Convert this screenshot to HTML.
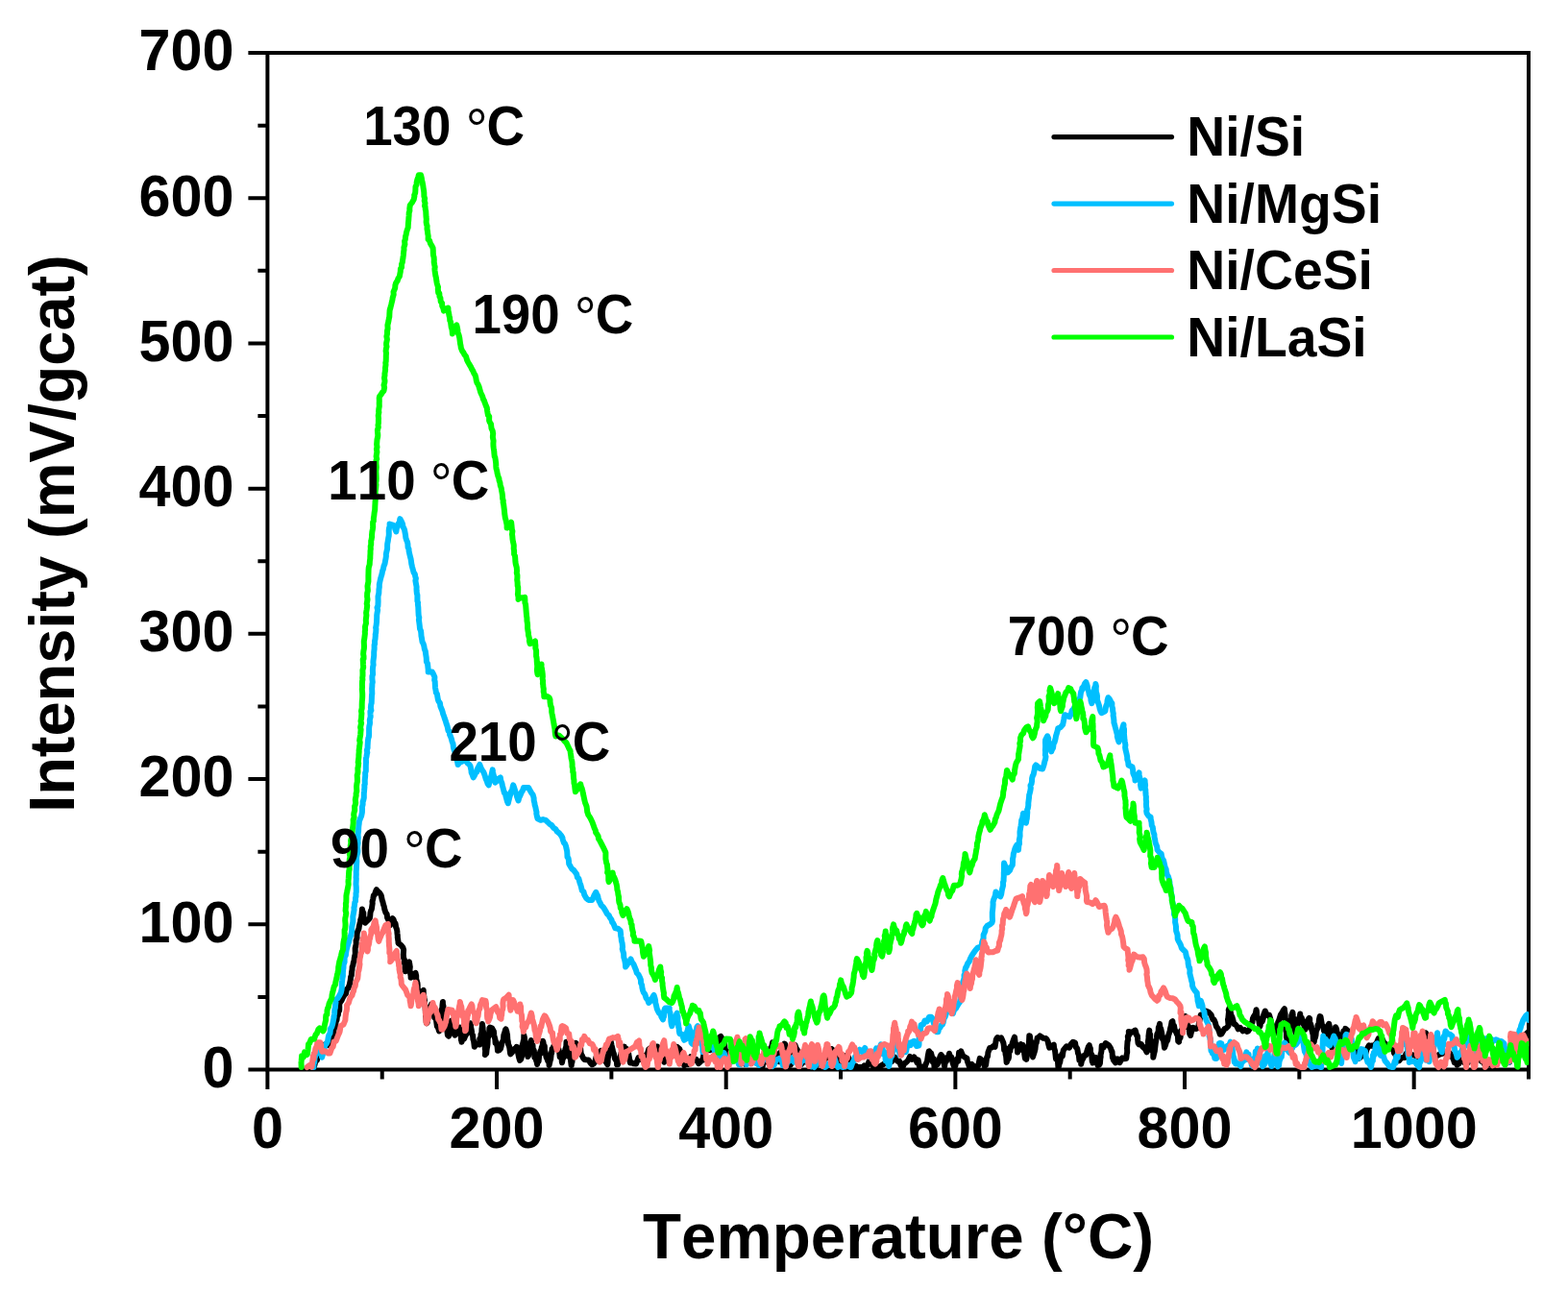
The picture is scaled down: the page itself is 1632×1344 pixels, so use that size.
<!DOCTYPE html>
<html><head><meta charset="utf-8"><title>TPR profiles</title>
<style>html,body{margin:0;padding:0;background:#fff;}svg{display:block;}</style>
</head><body>
<svg width="1632" height="1344" viewBox="0 0 1632 1344">
<rect width="1632" height="1344" fill="#ffffff"/>
<rect x="278.4" y="55.0" width="1312.6" height="1058.5" fill="none" stroke="#000" stroke-width="4.0" stroke-linejoin="miter"/>
<path d="M258.4,1113.50H278.4 M268.4,1037.89H278.4 M258.4,962.29H278.4 M268.4,886.68H278.4 M258.4,811.08H278.4 M268.4,735.48H278.4 M258.4,659.87H278.4 M268.4,584.26H278.4 M258.4,508.66H278.4 M268.4,433.05H278.4 M258.4,357.45H278.4 M268.4,281.85H278.4 M258.4,206.24H278.4 M268.4,130.63H278.4 M258.4,55.03H278.4 M278.40,1113.5V1134.0 M397.73,1113.5V1123.5 M517.05,1113.5V1134.0 M636.38,1113.5V1123.5 M755.71,1113.5V1134.0 M875.03,1113.5V1123.5 M994.36,1113.5V1134.0 M1113.69,1113.5V1123.5 M1233.02,1113.5V1134.0 M1352.34,1113.5V1123.5 M1471.67,1113.5V1134.0 M1591.00,1113.5V1123.5" stroke="#000" stroke-width="4.0" fill="none"/>
<defs><clipPath id="pc"><rect x="278.4" y="55.0" width="1312.8999999999999" height="1060.5"/></clipPath></defs>
<g clip-path="url(#pc)">
<polyline points="326.8,1111.0 328.3,1105.0 329.2,1104.3 329.9,1103.8 331.0,1099.5 332.6,1097.3 334.6,1096.3 336.0,1093.0 337.9,1087.4 340.5,1087.6 341.9,1088.1 343.1,1085.7 345.1,1081.5 346.4,1080.0 347.1,1076.3 346.8,1076.8 347.5,1072.5 348.3,1067.8 348.9,1069.2 349.7,1063.4 350.5,1062.0 351.0,1057.4 351.8,1056.7 352.3,1053.3 353.2,1052.0 353.3,1048.8 353.2,1046.2 353.7,1044.0 355.3,1042.0 356.6,1039.0 358.4,1036.0 360.0,1034.4 360.9,1030.0 362.5,1028.6 363.6,1025.6 364.0,1023.8 364.7,1020.8 365.1,1017.0 365.8,1015.5 366.0,1012.0 366.5,1009.6 366.7,1006.3 367.3,1005.4 367.9,1001.7 368.5,1000.4 368.8,997.3 369.3,995.2 369.8,992.6 369.7,990.0 369.7,987.2 370.5,983.7 370.7,982.9 370.6,979.1 371.6,976.7 371.5,974.6 371.7,971.4 372.2,969.7 373.5,966.7 373.8,964.4 374.5,961.4 375.2,959.5 375.2,957.8 376.2,954.8 376.5,952.4 376.7,949.6 377.0,946.4 377.4,948.9 378.3,950.3 378.3,953.7 379.0,955.9 379.4,958.0 380.0,960.7 382.5,958.4 384.8,956.0 385.2,953.7 385.5,950.0 386.2,947.7 386.8,946.6 387.2,943.9 387.7,940.3 387.5,938.6 388.3,935.7 388.8,932.4 389.9,931.5 391.1,927.8 391.9,926.2 393.2,927.9 395.1,929.5 396.7,932.1 397.1,933.8 397.8,937.3 398.4,938.9 399.0,941.7 399.7,943.5 400.4,947.1 401.4,950.0 402.7,951.8 403.1,955.3 404.5,958.1 404.9,959.5 406.2,963.1 407.2,960.0 408.0,957.7 408.6,956.0 409.6,957.3 410.5,960.1 411.6,961.6 412.1,965.2 412.9,967.1 413.3,969.0 413.5,971.8 413.8,974.1 413.8,976.0 414.5,980.3 414.5,981.8 417.3,983.9 419.5,986.7 420.1,988.8 419.9,992.1 419.8,993.6 420.1,997.3 421.1,999.6 420.7,1001.6 421.6,1004.7 421.4,1006.8 421.5,1008.6 421.9,1011.3 423.1,1008.3 423.7,1006.3 425.1,1003.2 426.0,1001.5 426.3,1003.8 426.8,1006.6 426.4,1010.4 426.9,1011.8 427.6,1016.1 427.6,1017.8 429.8,1015.0 432.5,1012.9 433.2,1015.9 433.2,1019.1 433.9,1021.7 434.5,1023.5 434.7,1025.7 434.7,1028.0 435.2,1032.4 435.8,1034.2 438.3,1033.1 440.7,1030.9 440.8,1034.0 441.0,1035.5 441.5,1039.0 442.0,1041.6 441.9,1042.5 441.7,1044.9 442.6,1047.2 442.8,1051.8 442.9,1052.3 443.0,1056.7 443.1,1058.2 443.3,1058.5 443.8,1064.6 444.0,1065.3 444.6,1064.7 445.5,1059.4 445.4,1059.4 446.1,1056.2 447.4,1051.3 447.5,1048.5 448.2,1049.0 448.9,1045.6 449.3,1047.2 450.5,1049.1 451.3,1050.8 452.0,1054.4 452.2,1059.0 453.0,1058.5 453.8,1060.1 454.0,1062.2 454.9,1068.6 455.7,1069.3 456.1,1070.4 457.1,1073.5 457.8,1072.8 457.4,1070.5 458.1,1064.6 458.4,1065.4 458.8,1061.6 459.0,1057.1 459.1,1054.8 459.5,1051.3 459.9,1052.7 460.4,1048.3 460.5,1046.3 460.9,1042.9 460.9,1044.9 461.5,1047.4 461.3,1051.9 461.7,1051.8 461.9,1055.3 461.6,1056.2 461.8,1058.6 462.0,1062.4 462.6,1062.7 462.7,1067.0 463.8,1068.4 464.8,1071.6 465.3,1072.4 465.9,1077.6 467.1,1078.6 467.3,1077.9 468.4,1074.4 468.3,1072.0 468.9,1066.1 469.2,1067.0 469.8,1062.5 470.1,1066.8 470.6,1069.4 471.9,1069.3 472.5,1074.0 473.0,1076.7 473.4,1077.7 474.5,1076.5 475.8,1073.4 477.6,1072.6 478.8,1069.6 478.7,1071.0 479.6,1076.7 479.7,1077.4 479.9,1082.3 480.1,1081.5 480.5,1084.8 481.5,1080.8 483.1,1081.4 484.2,1078.6 485.9,1075.9 486.5,1072.6 487.5,1068.9 488.5,1069.3 489.5,1065.2 490.0,1067.2 490.0,1068.8 490.8,1072.6 491.2,1075.5 491.9,1078.1 492.1,1077.8 492.4,1081.9 493.1,1083.8 493.8,1089.8 493.9,1089.3 496.7,1086.8 499.3,1087.5 499.3,1081.6 500.3,1082.2 500.5,1077.0 500.5,1078.5 501.3,1075.0 501.5,1070.9 501.7,1069.8 502.0,1066.1 502.6,1070.1 502.6,1072.9 502.6,1071.9 503.1,1074.5 503.0,1080.0 503.8,1081.8 503.9,1081.8 504.3,1082.9 504.8,1084.4 504.8,1092.3 505.3,1090.8 504.9,1098.2 505.5,1097.3 506.2,1096.8 506.5,1093.4 507.1,1089.3 507.0,1090.6 507.5,1086.9 507.8,1079.8 508.7,1077.0 508.5,1079.2 509.1,1075.1 509.4,1070.4 510.0,1069.6 512.0,1070.3 513.6,1073.2 513.9,1073.6 514.3,1077.9 515.3,1081.8 515.6,1085.9 516.4,1084.5 517.0,1087.0 517.6,1089.4 518.0,1093.8 519.7,1093.2 521.0,1091.8 522.5,1085.7 523.5,1083.3 523.9,1082.9 524.3,1077.7 525.4,1074.4 526.0,1072.1 526.5,1071.4 527.4,1074.2 527.9,1077.7 528.0,1076.6 528.3,1082.3 528.8,1084.4 529.0,1087.1 529.9,1089.1 530.3,1090.7 531.1,1096.7 531.4,1097.3 533.3,1095.2 534.8,1092.3 536.8,1091.1 537.7,1089.8 539.2,1096.4 540.0,1100.4 541.0,1103.9 542.1,1102.7 542.3,1102.6 543.1,1099.5 542.8,1093.8 543.4,1093.6 543.3,1089.2 544.0,1086.9 544.6,1084.5 544.8,1083.3 545.2,1083.1 545.3,1077.7 545.9,1080.1 546.3,1083.7 546.6,1086.1 547.2,1088.5 547.7,1093.2 548.2,1095.1 548.5,1097.3 548.7,1096.4 549.3,1100.0 550.1,1099.1 550.1,1095.5 550.8,1095.1 551.0,1090.0 552.1,1087.9 552.3,1084.9 552.9,1083.0 553.1,1086.6 554.5,1088.1 554.7,1091.9 555.5,1094.4 555.8,1093.4 556.4,1100.8 557.5,1097.4 557.8,1103.2 558.7,1105.6 559.1,1108.0 559.9,1103.3 560.6,1104.9 561.1,1099.4 561.7,1096.8 562.5,1094.0 562.7,1096.7 563.9,1089.8 564.4,1090.9 565.1,1083.7 565.4,1084.8 565.9,1088.1 566.8,1089.1 567.0,1094.1 567.6,1095.3 568.5,1100.3 569.3,1102.2 569.5,1102.4 570.1,1104.3 571.2,1103.9 571.6,1108.9 572.4,1105.4 572.9,1102.1 573.1,1103.1 573.8,1096.3 574.1,1096.6 574.6,1091.9 575.8,1092.5 576.1,1089.3 578.4,1088.8 581.4,1092.3 582.3,1096.1 582.7,1100.3 583.5,1098.2 584.0,1098.9 584.3,1101.1 585.0,1106.3 585.4,1103.9 585.8,1099.1 586.5,1101.4 586.8,1097.3 587.4,1095.9 588.3,1092.6 588.1,1093.1 589.3,1089.3 589.5,1084.8 589.9,1085.9 590.9,1090.2 591.4,1091.3 591.3,1096.3 591.8,1099.8 592.8,1096.7 593.1,1098.5 593.7,1101.4 594.6,1108.9 594.8,1108.9 594.9,1103.0 595.4,1106.2 596.0,1099.5 596.4,1095.6 597.5,1097.0 598.1,1094.8 598.2,1092.0 599.2,1089.2 599.3,1085.7 601.5,1089.6 602.4,1092.9 604.1,1090.9 604.7,1097.0 606.0,1099.3 606.7,1100.9 608.2,1103.0 610.2,1103.3 612.6,1103.5 614.4,1106.4 616.3,1108.3 617.8,1107.6 619.2,1105.5 620.7,1099.9 622.0,1096.9 623.2,1099.8 624.3,1095.0 625.3,1094.0 626.9,1101.7 628.7,1100.7 629.7,1100.6 630.7,1105.7 632.3,1108.3 632.7,1105.1 632.5,1106.2 632.8,1101.2 633.0,1100.8 633.6,1092.9 633.8,1095.5 634.4,1088.8 634.7,1091.2 634.7,1085.2 635.0,1084.2 635.9,1084.8 636.5,1087.8 637.8,1093.5 637.9,1094.4 639.0,1097.3 640.0,1102.2 640.8,1103.5 641.8,1103.7 642.1,1108.3 643.1,1108.3 643.8,1103.5 644.5,1103.8 645.7,1100.2 646.7,1095.7 647.1,1097.7 648.0,1092.8 649.2,1090.7 649.8,1089.6 650.8,1091.9 652.0,1091.7 652.5,1095.2 654.0,1095.7 654.9,1101.0 655.9,1106.5 656.5,1105.7 659.5,1107.3 662.1,1107.4 664.5,1101.0 667.2,1103.0 669.2,1101.4 670.6,1100.8 671.9,1098.4 673.7,1097.6 675.2,1092.3 677.9,1090.7 680.6,1094.0 683.3,1089.6 684.2,1089.5 685.6,1095.5 686.5,1099.4 688.1,1098.2 688.7,1097.9 690.0,1103.7 691.3,1105.7 692.7,1100.7 694.5,1102.4 695.8,1096.2 697.8,1099.7 699.3,1095.0 702.3,1091.7 704.6,1089.8 707.4,1092.3 708.3,1097.1 709.2,1095.3 710.0,1099.9 710.4,1104.3 711.2,1105.0 712.2,1109.2 712.7,1108.3 715.0,1107.9 716.6,1107.9 719.0,1100.1 720.8,1100.3 722.8,1103.6 724.7,1102.9 727.0,1107.1 728.8,1105.7 729.8,1104.1 731.4,1103.8 732.6,1096.8 733.7,1098.1 735.3,1091.8 736.8,1092.3 738.9,1093.2 740.7,1091.9 742.6,1087.1 744.5,1084.8 746.7,1085.0 748.4,1080.2 750.2,1078.9 750.9,1079.9 752.1,1083.7 753.3,1086.4 753.9,1086.0 754.9,1094.3 755.5,1093.6 756.8,1094.8 757.5,1100.8 758.3,1100.3 761.3,1101.8 763.6,1100.1 766.6,1096.1 769.0,1095.0 770.4,1096.2 771.2,1099.2 772.2,1101.2 773.6,1102.6 774.6,1102.4 776.0,1108.0 778.3,1104.3 779.8,1104.6 781.8,1105.6 784.0,1100.0 785.8,1101.9 787.1,1105.0 788.8,1107.4 790.4,1108.8 792.0,1109.0 793.7,1110.1 794.7,1101.6 796.3,1105.6 798.0,1100.0 798.8,1094.2 800.4,1095.0 801.2,1092.0 801.7,1092.7 803.5,1088.6 804.1,1085.4 804.9,1088.2 805.9,1089.2 806.0,1096.1 807.0,1095.6 807.5,1098.9 808.3,1098.4 809.5,1102.4 810.0,1105.0 811.0,1105.3 811.3,1101.7 812.5,1097.3 813.2,1094.3 813.7,1096.4 814.5,1093.7 815.9,1088.1 816.4,1086.6 817.0,1086.8 818.0,1090.8 818.1,1097.3 819.2,1096.1 819.3,1098.8 820.0,1102.7 820.4,1103.1 821.5,1109.1 822.0,1108.0 823.0,1108.5 823.4,1101.3 824.2,1100.0 824.5,1100.4 825.5,1093.8 825.8,1092.2 826.8,1088.1 827.4,1087.8 828.6,1091.0 829.1,1093.1 829.8,1092.8 830.9,1096.3 831.3,1098.7 832.3,1102.0 833.3,1104.3 834.0,1108.0 836.3,1103.7 838.0,1105.4 839.9,1098.8 842.0,1100.0 843.7,1103.2 845.5,1105.8 846.8,1104.1 848.1,1106.0 850.0,1109.0 851.8,1104.7 854.0,1102.5 856.1,1105.2 858.0,1102.0 859.7,1101.7 862.0,1096.6 863.8,1100.0 865.5,1092.0 867.8,1094.0 868.9,1094.9 869.6,1095.7 871.3,1102.3 872.0,1102.2 872.6,1105.8 874.0,1108.0 875.2,1104.6 877.2,1101.9 878.1,1102.8 880.0,1099.3 881.8,1098.4 883.1,1100.7 884.4,1104.1 886.1,1104.5 888.0,1110.0 890.8,1109.5 892.7,1111.0 895.2,1111.0 897.9,1111.0 899.5,1109.4 901.3,1110.7 903.3,1107.9 905.0,1104.0 907.4,1108.5 909.6,1110.7 912.0,1110.0 915.1,1110.7 918.1,1108.8 920.5,1107.4 922.6,1105.9 925.0,1104.0 928.2,1105.1 931.2,1100.5 932.5,1103.0 934.3,1104.8 936.1,1104.7 937.6,1109.2 939.5,1111.0 941.4,1107.0 943.1,1106.1 945.0,1104.0 947.0,1100.0 949.3,1102.8 951.4,1100.5 953.1,1102.9 954.4,1106.3 955.6,1103.4 956.9,1110.2 958.6,1111.0 962.3,1110.3 962.8,1110.6 963.7,1107.7 965.0,1104.8 965.9,1098.5 966.7,1094.6 967.2,1094.4 968.0,1095.8 969.0,1096.2 969.9,1099.6 970.8,1105.6 971.9,1102.2 972.5,1111.0 973.3,1110.3 974.6,1107.0 975.7,1108.1 977.0,1104.9 978.5,1099.9 979.4,1098.0 980.2,1099.8 980.9,1099.7 981.8,1102.0 982.0,1104.2 983.1,1110.3 983.8,1104.8 984.9,1105.0 986.4,1100.6 987.1,1102.4 988.0,1096.8 989.2,1101.7 990.2,1100.4 991.0,1103.0 991.6,1106.6 992.9,1110.3 994.3,1110.0 995.3,1104.4 996.2,1102.4 997.3,1104.8 998.1,1095.7 999.0,1095.8 1000.2,1094.4 1002.2,1099.1 1004.4,1100.7 1006.4,1101.7 1006.8,1104.7 1008.3,1108.7 1008.8,1110.3 1011.4,1107.9 1013.6,1110.2 1016.2,1110.3 1018.2,1109.3 1019.8,1101.9 1021.1,1102.9 1022.6,1104.5 1023.7,1105.5 1024.8,1110.3 1025.3,1105.0 1026.1,1108.8 1026.6,1105.0 1027.2,1100.3 1028.0,1100.0 1028.4,1095.6 1030.2,1090.9 1032.1,1090.7 1033.8,1089.0 1035.6,1089.9 1036.8,1082.3 1038.1,1080.0 1040.1,1080.9 1042.0,1080.3 1044.4,1085.8 1045.0,1090.2 1045.1,1092.8 1046.1,1090.7 1046.6,1097.9 1046.6,1094.6 1047.3,1101.5 1047.6,1105.9 1048.0,1105.4 1048.2,1102.0 1049.6,1102.3 1050.0,1100.4 1050.3,1093.7 1051.4,1094.1 1051.7,1089.5 1052.5,1090.4 1053.9,1085.2 1055.2,1081.6 1056.0,1079.7 1056.7,1085.5 1057.2,1086.4 1057.6,1088.8 1058.3,1088.5 1058.7,1090.2 1059.1,1095.6 1060.3,1091.9 1061.5,1090.9 1062.7,1087.0 1063.3,1092.7 1064.7,1088.0 1064.9,1092.5 1066.0,1095.5 1066.9,1101.9 1067.5,1099.3 1068.3,1102.9 1068.7,1100.1 1068.8,1097.4 1069.3,1094.8 1070.0,1090.9 1069.8,1089.6 1070.7,1088.7 1070.9,1087.8 1071.0,1085.0 1071.3,1078.3 1071.9,1078.4 1072.1,1079.8 1072.3,1083.1 1072.7,1083.1 1073.5,1086.0 1073.4,1090.9 1074.3,1092.6 1074.4,1096.1 1074.4,1097.3 1075.0,1100.5 1075.3,1099.0 1075.9,1097.7 1076.8,1094.9 1077.5,1092.0 1078.1,1085.6 1078.7,1085.8 1079.7,1080.3 1081.0,1080.0 1082.4,1078.4 1085.8,1080.8 1088.5,1080.9 1089.7,1082.3 1090.5,1083.8 1091.3,1087.2 1092.2,1090.7 1095.8,1088.2 1096.8,1087.7 1097.1,1091.0 1098.1,1094.1 1098.6,1098.7 1099.0,1102.3 1100.2,1099.8 1100.9,1104.1 1101.4,1111.0 1102.0,1110.3 1103.0,1105.0 1103.2,1106.3 1104.1,1100.8 1105.1,1097.7 1105.8,1099.5 1106.5,1094.7 1106.9,1093.1 1110.1,1089.3 1113.0,1090.7 1114.6,1087.3 1116.8,1084.7 1119.1,1085.8 1119.7,1090.1 1120.5,1090.6 1121.2,1091.5 1122.1,1096.8 1122.8,1098.0 1123.4,1103.8 1123.7,1102.3 1124.8,1102.5 1125.2,1107.8 1126.3,1102.7 1127.0,1102.6 1128.7,1098.4 1129.8,1098.3 1130.3,1098.5 1131.3,1094.4 1132.7,1090.1 1133.8,1088.2 1134.4,1094.1 1134.9,1091.2 1135.1,1096.2 1136.2,1097.7 1136.7,1104.8 1137.3,1100.8 1137.5,1106.6 1139.0,1103.4 1140.0,1100.8 1141.1,1101.1 1142.5,1109.1 1144.0,1108.8 1144.3,1103.0 1144.9,1107.3 1145.4,1100.5 1145.6,1100.9 1145.6,1097.3 1146.0,1096.6 1146.4,1094.3 1146.7,1088.7 1148.7,1090.3 1150.7,1086.0 1152.6,1087.3 1154.0,1088.3 1156.1,1091.4 1156.9,1094.4 1157.5,1094.6 1157.9,1100.7 1158.7,1100.4 1158.8,1103.4 1161.1,1106.4 1163.3,1102.4 1165.5,1106.1 1168.1,1101.3 1169.9,1102.3 1172.2,1102.1 1172.5,1099.9 1172.7,1097.6 1173.2,1095.4 1173.1,1091.5 1173.0,1091.6 1173.5,1084.3 1174.2,1082.2 1173.8,1079.1 1174.3,1077.8 1175.0,1078.0 1174.8,1074.0 1178.2,1074.8 1181.5,1072.6 1181.8,1073.0 1183.1,1078.1 1183.9,1078.3 1184.2,1082.8 1184.5,1085.8 1185.5,1087.4 1187.9,1087.0 1189.2,1089.7 1191.8,1091.8 1193.6,1095.4 1193.7,1091.2 1194.2,1088.7 1194.3,1089.5 1195.2,1088.0 1194.8,1085.1 1195.7,1078.9 1195.4,1079.2 1195.9,1074.9 1196.3,1072.6 1196.3,1076.3 1197.2,1076.9 1197.0,1083.1 1197.9,1083.5 1198.1,1088.1 1198.2,1091.4 1198.5,1087.8 1198.9,1093.7 1199.3,1094.0 1200.3,1095.0 1200.3,1100.8 1201.1,1097.1 1201.0,1097.4 1201.3,1096.4 1201.8,1094.3 1202.7,1086.6 1203.4,1082.3 1203.9,1080.4 1204.2,1077.5 1204.4,1076.3 1205.0,1075.8 1205.7,1072.9 1205.8,1069.5 1206.4,1069.2 1207.0,1065.9 1207.5,1070.2 1207.7,1070.6 1208.3,1071.0 1209.3,1076.1 1209.6,1079.9 1210.1,1081.9 1210.6,1079.7 1211.5,1086.6 1212.0,1090.8 1212.3,1090.0 1213.1,1088.0 1213.8,1085.1 1214.6,1084.0 1215.2,1082.8 1216.2,1077.7 1216.7,1076.2 1217.7,1073.2 1218.0,1071.0 1219.0,1067.2 1219.6,1063.6 1220.4,1063.2 1220.9,1067.3 1222.0,1067.7 1222.8,1072.2 1223.3,1073.3 1224.2,1074.9 1225.1,1076.9 1225.8,1076.4 1226.2,1084.1 1227.1,1084.7 1227.6,1078.8 1228.5,1080.5 1228.7,1079.0 1229.2,1073.1 1230.3,1074.7 1230.9,1068.4 1231.4,1069.7 1232.3,1064.0 1232.3,1063.7 1233.2,1061.5 1233.8,1057.9 1234.4,1060.7 1235.1,1062.0 1235.8,1065.6 1236.1,1069.6 1237.5,1069.1 1237.9,1073.4 1238.2,1076.1 1239.1,1078.0 1239.8,1074.8 1241.3,1071.1 1241.8,1069.9 1244.8,1071.0 1247.2,1069.9 1247.9,1065.0 1248.2,1063.7 1248.4,1062.6 1249.3,1058.6 1249.8,1056.5 1252.5,1056.1 1255.2,1052.5 1258.0,1053.7 1260.6,1056.5 1261.5,1059.3 1262.5,1061.6 1263.6,1061.6 1264.8,1064.4 1265.9,1068.6 1267.5,1070.6 1268.8,1073.7 1269.8,1076.8 1271.3,1076.6 1272.8,1074.0 1274.7,1070.9 1276.0,1070.6 1278.0,1068.6 1278.6,1067.8 1278.0,1061.3 1278.7,1058.6 1278.4,1059.4 1279.0,1053.0 1278.7,1051.7 1279.3,1049.8 1279.9,1050.1 1280.7,1053.3 1281.5,1057.3 1282.3,1058.3 1283.3,1061.9 1284.4,1066.0 1286.0,1066.8 1287.3,1068.2 1288.7,1071.3 1290.8,1069.8 1293.6,1073.3 1295.5,1072.1 1298.1,1074.0 1299.1,1073.4 1301.1,1070.6 1302.3,1065.4 1303.4,1064.6 1303.9,1060.4 1304.9,1058.3 1305.8,1057.0 1306.8,1055.2 1307.5,1051.2 1307.8,1052.0 1308.3,1057.3 1309.5,1060.6 1309.6,1059.9 1310.3,1062.5 1310.6,1065.0 1311.5,1068.6 1312.0,1065.2 1313.0,1063.3 1313.9,1063.3 1314.8,1059.9 1315.2,1056.6 1316.3,1053.7 1316.8,1052.5 1318.5,1056.2 1319.2,1057.0 1321.1,1056.7 1322.2,1060.6 1323.1,1064.7 1324.3,1067.4 1324.7,1069.1 1325.6,1070.2 1326.6,1072.4 1327.5,1075.3 1327.9,1070.7 1328.9,1068.9 1329.7,1069.6 1330.2,1064.0 1330.6,1063.6 1331.6,1060.6 1333.0,1056.2 1334.4,1054.3 1335.9,1051.4 1336.9,1050.3 1337.0,1052.0 1337.6,1055.7 1337.8,1059.9 1337.3,1061.4 1337.9,1061.8 1338.2,1067.9 1338.1,1067.0 1338.4,1073.0 1338.9,1075.1 1338.9,1077.3 1338.9,1079.8 1339.6,1078.5 1339.4,1083.8 1339.7,1077.9 1340.8,1079.6 1340.7,1075.0 1341.3,1075.3 1341.8,1070.9 1342.8,1066.8 1342.5,1067.2 1343.1,1062.0 1344.2,1060.7 1344.2,1057.2 1344.9,1055.5 1345.4,1053.8 1345.8,1057.9 1346.1,1060.3 1346.7,1060.6 1346.7,1063.7 1347.0,1065.7 1347.1,1067.8 1347.9,1069.1 1347.8,1071.2 1348.4,1075.2 1348.9,1071.3 1349.5,1068.3 1350.3,1068.3 1350.5,1067.0 1351.2,1063.5 1352.1,1059.7 1352.7,1059.4 1353.2,1055.5 1353.5,1060.0 1354.6,1059.3 1355.0,1060.4 1356.2,1064.2 1356.5,1065.5 1357.8,1068.7 1358.3,1071.8 1359.6,1069.7 1360.3,1067.5 1360.9,1064.9 1361.4,1061.8 1362.6,1059.8 1363.2,1060.4 1363.2,1066.3 1364.0,1065.8 1364.9,1068.9 1365.0,1071.1 1366.0,1074.6 1366.3,1076.3 1366.6,1076.4 1367.0,1085.2 1367.7,1084.6 1368.4,1081.1 1368.9,1080.2 1369.5,1077.8 1369.8,1074.1 1370.5,1072.1 1371.3,1070.4 1371.5,1067.2 1372.5,1066.7 1372.9,1061.7 1373.4,1059.3 1373.8,1058.0 1374.5,1058.4 1375.3,1063.3 1376.0,1067.3 1376.5,1068.2 1377.2,1068.2 1378.0,1073.1 1378.5,1073.9 1379.3,1075.8 1379.8,1080.3 1380.3,1079.3 1381.1,1076.3 1381.2,1072.2 1382.0,1071.8 1382.6,1066.7 1383.2,1065.8 1384.0,1069.7 1384.4,1070.9 1384.4,1071.6 1384.6,1073.3 1384.8,1079.5 1385.6,1081.4 1386.3,1086.2 1386.1,1082.4 1386.6,1091.1 1387.4,1087.7 1387.5,1092.4 1387.6,1090.7 1388.0,1087.6 1388.4,1084.4 1388.7,1079.7 1389.0,1082.8 1389.0,1078.2 1389.0,1072.8 1389.4,1073.9 1390.0,1069.2 1391.0,1071.2 1391.8,1075.4 1392.9,1076.6 1393.7,1079.1 1394.5,1078.8 1395.2,1084.6 1396.0,1079.4 1396.6,1079.6 1398.0,1077.5 1398.4,1073.4 1399.4,1075.3 1400.3,1070.9 1402.4,1072.6 1403.8,1075.2 1404.3,1078.9 1405.1,1080.9 1406.2,1084.6 1406.6,1087.2 1407.5,1090.7 1408.4,1092.6 1408.9,1095.3 1410.0,1095.0 1411.9,1093.8 1413.8,1102.0 1415.8,1100.9 1417.2,1099.0 1419.2,1097.2 1421.1,1097.7 1422.4,1092.7 1424.8,1088.4 1426.1,1088.9 1428.1,1088.5 1430.3,1088.7 1433.1,1085.0 1434.7,1081.2 1437.2,1082.9 1438.6,1081.5 1440.5,1085.5 1441.9,1086.6 1444.0,1090.0 1447.0,1091.1 1450.1,1092.4 1451.1,1096.5 1452.4,1097.8 1453.4,1101.4 1454.9,1101.9 1456.1,1104.4 1457.9,1102.2 1459.5,1100.9 1461.8,1101.1 1463.3,1097.3 1465.0,1095.0 1467.4,1097.9 1470.0,1098.2 1472.4,1098.6 1475.0,1100.0 1475.7,1097.8 1476.6,1093.2 1477.5,1093.2 1478.9,1092.1 1479.4,1089.5 1480.3,1088.3 1481.4,1081.6 1482.1,1081.3 1483.4,1078.9 1484.0,1075.2 1484.1,1076.7 1484.8,1079.4 1484.7,1083.8 1485.7,1084.3 1485.8,1090.8 1486.0,1090.0 1487.8,1094.0 1488.7,1092.0 1490.4,1096.8 1492.0,1098.0 1495.1,1099.3 1498.6,1097.5 1501.8,1096.6 1504.6,1096.6 1506.8,1094.8 1509.2,1096.4 1511.5,1100.1 1513.2,1103.9 1513.8,1106.2 1515.4,1106.1 1516.6,1108.7 1517.4,1107.3 1518.3,1107.4 1518.3,1099.5 1519.2,1099.2 1521.1,1104.3 1523.3,1106.0 1525.5,1104.9 1528.0,1106.0 1529.9,1101.9 1532.2,1105.1 1533.7,1100.2 1536.0,1100.0 1537.5,1100.6 1539.6,1101.3 1541.7,1104.7 1543.2,1103.4 1545.0,1108.0 1547.5,1109.0 1550.4,1108.0 1553.5,1109.5 1555.1,1110.4 1556.9,1102.6 1558.9,1104.0 1560.1,1103.5 1562.0,1100.0 1563.6,1104.4 1565.6,1104.4 1567.8,1106.8 1570.0,1106.0 1571.0,1105.8 1571.1,1103.3 1571.8,1098.2 1573.2,1098.2 1573.6,1094.4 1573.9,1093.1 1574.8,1088.6 1575.5,1089.0 1576.3,1083.9 1576.7,1080.4 1577.3,1078.3 1578.4,1077.8 1578.6,1082.2 1579.0,1084.9 1579.2,1087.2 1581.4,1081.6 1582.7,1084.7 1585.0,1080.0 1587.7,1077.2 1590.0,1075.0" fill="none" stroke="#000000" stroke-width="6" stroke-linejoin="round" stroke-linecap="round"/>
<polyline points="325.6,1111.0 326.5,1111.0 326.3,1102.8 327.3,1105.9 327.4,1102.2 328.2,1099.3 328.6,1096.0 329.3,1094.2 330.4,1090.7 331.5,1088.8 332.6,1092.8 333.0,1096.8 333.5,1095.5 334.0,1095.0 335.1,1100.7 335.8,1098.1 337.0,1095.1 337.5,1093.7 337.9,1089.3 338.8,1087.5 339.9,1086.4 341.2,1083.3 341.7,1080.0 342.2,1077.8 343.5,1075.7 344.0,1071.0 345.3,1069.0 346.2,1066.2 347.0,1062.0 347.7,1058.7 347.4,1058.8 348.1,1055.2 348.3,1051.3 348.9,1048.9 349.1,1046.3 349.5,1043.3 349.5,1041.0 351.5,1039.3 353.5,1036.0 354.9,1033.1 355.6,1030.0 355.8,1027.9 355.8,1024.4 355.9,1022.9 356.2,1020.8 356.4,1018.3 356.9,1015.9 356.9,1012.5 357.1,1010.0 357.5,1007.5 357.6,1004.0 358.6,1001.6 358.6,998.8 358.8,996.5 359.9,994.3 360.1,991.9 360.6,989.0 361.3,986.2 362.1,983.3 363.1,980.4 363.6,977.8 364.1,976.9 365.3,973.2 365.7,971.4 366.2,968.6 366.2,965.1 366.7,962.7 367.3,959.9 367.4,957.1 367.3,954.4 367.5,953.3 368.1,950.0 368.6,947.0 368.4,945.0 368.8,943.8 369.3,939.5 370.0,938.3 370.0,934.9 370.5,933.3 370.5,929.8 370.8,928.7 370.8,926.4 370.8,923.8 370.5,920.4 370.6,918.3 370.8,914.6 370.6,913.6 370.8,910.4 370.7,907.7 370.8,906.0 371.0,902.8 371.1,900.0 371.3,896.5 371.1,894.3 371.3,891.6 371.8,889.2 372.3,887.5 372.4,885.9 372.1,882.0 372.4,879.5 372.7,877.7 372.5,875.4 372.8,872.3 372.6,869.0 372.8,867.3 373.1,865.4 373.2,861.7 373.4,859.5 373.7,857.5 373.9,855.0 375.1,851.9 376.1,849.6 376.7,846.6 376.9,845.7 377.0,842.3 376.9,840.2 377.6,837.5 377.6,834.6 378.1,833.5 378.8,830.5 378.8,828.1 378.8,825.8 379.0,824.1 379.4,819.6 379.3,817.3 379.8,816.2 379.7,812.1 379.9,810.4 380.2,807.5 380.1,804.7 380.8,802.8 380.8,799.7 380.8,797.4 380.9,795.3 381.0,793.5 380.9,789.7 381.4,788.0 381.9,784.7 382.3,783.4 381.8,781.1 382.6,778.6 382.6,776.3 382.8,773.1 382.9,771.5 383.3,768.6 383.9,767.0 384.1,764.5 384.1,761.2 384.1,758.3 384.3,756.2 384.9,753.6 385.0,752.1 384.8,749.5 385.7,746.1 385.5,743.2 385.4,740.5 386.4,739.7 385.9,736.7 386.2,733.5 386.7,731.8 386.8,729.0 386.9,726.4 387.0,723.3 387.3,722.4 387.2,718.2 387.1,717.0 387.3,714.9 387.4,712.0 387.8,710.1 387.4,706.8 387.4,704.0 388.1,701.8 387.9,698.5 387.9,696.7 388.1,694.2 388.6,692.2 388.4,689.7 388.5,687.8 388.9,684.9 389.2,682.5 389.2,679.0 389.4,677.0 389.6,675.7 389.6,671.3 390.1,670.3 390.0,667.4 390.5,665.3 390.8,661.6 390.7,660.6 391.2,658.6 391.4,654.6 391.1,653.5 391.6,651.0 392.0,647.5 392.1,645.0 392.2,643.3 392.2,640.7 392.5,638.4 393.1,635.2 392.5,632.5 393.4,630.8 393.5,628.7 393.6,625.8 393.5,623.0 393.5,620.9 394.3,617.5 394.4,615.2 394.4,614.0 394.8,611.2 394.8,608.4 395.2,606.5 396.1,602.4 396.7,600.3 397.5,597.7 398.2,594.0 398.7,593.3 399.4,589.7 400.5,586.9 401.0,583.9 401.5,581.6 401.9,578.9 401.8,577.1 402.4,574.2 403.1,571.2 403.1,568.5 403.2,566.2 403.8,563.1 404.2,560.2 404.7,557.8 404.8,555.9 404.7,552.5 404.9,550.3 405.7,547.5 405.6,545.5 409.6,546.8 410.8,548.3 411.3,551.0 412.3,553.5 412.8,550.5 413.6,548.1 414.5,545.3 415.8,543.6 416.3,540.1 417.8,542.7 419.0,545.5 419.5,548.7 420.1,549.3 421.1,551.9 421.6,554.8 422.0,556.9 422.4,560.1 423.2,562.5 423.9,564.0 424.4,566.2 424.6,569.8 425.5,571.6 425.6,573.6 426.3,576.8 427.0,579.7 427.6,582.1 427.9,583.9 428.3,587.0 429.0,590.0 429.6,592.2 430.6,596.0 431.8,597.7 432.3,600.4 432.9,602.2 432.4,604.5 432.9,607.4 433.6,611.0 433.5,613.1 433.6,615.1 433.9,618.1 434.4,619.5 434.4,621.6 434.4,625.6 435.0,627.2 434.9,629.2 435.3,632.1 435.4,634.7 435.5,637.4 435.7,640.8 436.3,643.0 435.9,645.0 436.4,648.6 436.8,652.0 437.0,654.5 438.0,656.7 438.3,659.0 438.5,662.2 439.0,664.7 439.6,668.4 440.5,670.0 441.3,672.4 441.8,675.6 442.8,678.2 443.1,680.8 443.7,684.4 443.8,686.1 443.9,688.9 445.0,690.7 445.3,693.4 445.7,697.2 445.7,699.5 449.8,699.5 450.9,701.4 452.4,704.9 452.2,708.2 452.7,709.5 452.8,712.3 453.0,716.0 453.7,719.3 453.8,721.0 454.9,722.4 455.3,725.1 455.8,728.0 456.5,730.1 457.9,731.8 458.4,735.4 459.1,737.0 460.2,739.7 460.6,740.9 461.1,743.2 462.0,745.4 462.7,747.6 463.8,750.6 464.5,753.1 465.6,756.1 466.0,758.1 466.5,760.8 467.8,761.5 468.1,764.9 469.0,766.7 469.9,769.2 470.5,771.7 471.5,774.4 471.9,777.9 472.4,779.9 473.6,783.1 473.9,785.3 474.7,787.4 475.4,791.0 476.0,792.4 476.6,796.0 478.6,793.6 481.2,792.6 483.3,790.6 485.3,792.7 486.8,794.6 488.6,796.0 489.6,797.8 490.5,802.0 490.6,804.2 491.5,806.1 492.6,809.4 493.8,807.4 495.2,804.3 496.3,803.7 496.9,800.4 498.4,797.7 499.3,796.0 500.5,799.1 502.1,802.1 503.4,804.0 504.2,806.1 505.1,808.9 505.7,811.0 506.8,813.3 507.6,816.0 508.7,817.4 509.4,814.4 510.1,811.9 510.5,810.2 511.5,807.3 512.0,804.6 512.7,801.4 513.1,804.0 513.6,806.7 514.3,808.8 514.8,811.4 515.4,814.7 517.0,813.1 519.1,810.5 520.8,809.4 521.3,812.8 522.3,815.0 523.0,818.2 523.5,820.1 524.0,822.0 524.9,825.4 526.1,826.0 526.4,828.7 527.1,831.2 527.9,834.3 528.8,836.2 529.4,833.7 529.8,832.2 530.5,829.3 531.6,826.1 531.8,824.2 533.2,822.3 533.5,820.0 534.2,817.4 535.3,820.3 535.6,821.3 536.8,825.2 537.4,826.0 538.1,829.6 538.8,831.6 539.5,833.5 540.2,830.7 541.4,828.2 542.3,826.1 543.0,824.3 543.9,823.3 544.9,820.1 547.5,820.0 550.2,820.1 551.3,822.2 553.2,825.5 554.6,827.3 555.6,830.8 555.7,833.5 556.4,836.0 556.6,838.0 557.4,840.4 557.9,843.3 558.5,845.5 558.3,847.0 558.9,849.9 559.6,852.3 562.7,853.8 565.2,853.1 568.0,853.8 570.1,855.9 572.4,858.1 574.1,859.0 576.1,861.8 578.2,863.0 579.8,865.7 582.2,867.5 584.1,869.9 585.4,872.1 585.8,874.1 586.9,877.4 587.9,878.0 589.0,880.8 589.5,883.3 590.2,886.2 590.4,889.4 590.5,892.2 591.6,893.6 591.9,895.6 592.2,899.3 594.0,902.5 595.1,904.3 597.1,905.9 598.5,907.8 600.2,910.1 600.9,913.4 602.3,914.5 603.5,919.1 604.2,920.8 605.0,923.8 605.8,927.0 607.4,928.3 608.2,931.5 610.2,935.0 612.3,936.9 616.3,936.9 617.3,935.0 618.6,931.7 620.3,928.8 620.9,930.5 622.0,932.3 622.8,935.5 623.5,938.0 624.7,940.0 625.6,942.2 627.6,944.1 628.8,945.7 630.4,948.5 632.1,951.7 633.7,952.9 634.8,955.2 636.3,957.2 637.2,960.2 638.2,961.2 639.2,963.3 640.4,966.3 643.2,966.7 645.7,969.0 646.1,972.6 646.2,974.5 646.7,976.9 646.9,979.5 647.6,981.8 648.0,986.0 647.7,988.0 648.4,990.4 649.1,992.7 649.3,996.7 649.9,998.6 650.4,1000.6 650.9,1003.5 651.1,1006.5 652.6,1004.4 653.8,1002.6 655.5,1000.4 656.5,998.5 657.8,1001.7 659.5,1003.8 660.5,1006.5 661.9,1009.7 662.8,1012.8 664.6,1014.7 665.8,1017.2 666.9,1019.8 667.1,1023.5 668.1,1025.5 668.4,1028.3 669.1,1031.2 669.9,1033.3 671.4,1035.3 672.5,1038.9 674.3,1041.3 675.2,1044.0 676.5,1042.6 678.0,1040.8 679.4,1037.8 680.6,1036.0 681.6,1039.3 682.1,1041.7 682.2,1043.9 683.0,1046.6 683.8,1050.3 684.6,1052.1 686.1,1054.9 687.6,1055.3 688.3,1058.3 690.0,1061.4 690.4,1059.4 691.0,1058.4 691.2,1052.4 692.1,1049.7 692.6,1049.4 696.7,1049.4 696.7,1053.0 697.4,1054.0 698.2,1059.2 698.3,1061.7 698.3,1063.1 698.7,1065.9 699.3,1068.1 700.5,1065.0 701.3,1063.9 701.8,1061.2 703.0,1059.2 704.1,1055.8 704.7,1054.7 704.7,1059.2 705.5,1058.3 705.4,1062.8 705.7,1064.6 706.3,1068.2 706.2,1069.1 706.8,1071.0 706.8,1073.2 707.4,1076.2 709.8,1076.6 712.1,1082.8 714.1,1081.5 714.9,1079.6 714.9,1074.5 715.3,1074.4 716.5,1068.9 716.8,1068.1 717.0,1069.1 718.1,1072.3 718.6,1073.0 718.9,1076.6 719.0,1079.7 719.5,1085.5 720.6,1086.7 720.8,1086.9 721.8,1084.2 721.8,1079.1 722.4,1079.7 723.5,1078.9 723.9,1076.5 725.1,1070.7 725.4,1069.2 726.1,1068.1 726.7,1068.9 726.8,1072.8 727.4,1073.4 727.8,1079.1 728.6,1078.4 729.3,1083.7 729.8,1086.3 730.4,1085.2 730.2,1086.7 731.2,1089.7 731.5,1095.0 733.2,1092.8 734.5,1093.9 735.4,1089.1 737.0,1089.3 738.2,1081.6 739.5,1081.5 740.0,1080.4 741.5,1087.3 742.4,1091.3 743.3,1088.4 744.1,1096.9 744.7,1095.7 745.9,1095.1 746.4,1103.9 747.6,1103.0 749.4,1103.0 750.8,1097.3 752.0,1096.0 753.4,1095.9 755.5,1101.3 756.4,1103.5 758.3,1105.7 760.3,1106.2 761.9,1102.6 764.0,1098.0 764.9,1099.4 766.4,1100.9 767.9,1105.1 769.0,1108.3 770.1,1108.6 771.6,1107.2 772.5,1101.0 774.0,1100.0 775.1,1106.0 776.1,1102.2 777.0,1108.3 778.4,1105.3 779.8,1106.1 781.5,1100.4 783.0,1100.0 784.4,1105.2 786.7,1106.9 788.4,1104.4 790.0,1109.0 791.9,1107.9 793.4,1105.3 795.0,1103.0 797.0,1101.0 798.7,1102.9 800.3,1102.7 802.2,1106.6 804.0,1110.0 805.9,1108.5 807.5,1104.3 809.0,1102.8 811.0,1102.0 813.1,1101.4 814.8,1109.1 816.0,1105.6 818.0,1110.0 819.6,1104.9 821.1,1105.0 823.4,1102.7 825.0,1101.0 826.5,1105.7 828.7,1101.9 830.1,1106.9 832.0,1110.0 833.6,1105.5 835.3,1104.3 837.3,1102.1 839.0,1102.0 840.6,1106.3 842.5,1105.4 844.5,1110.5 846.0,1110.0 847.5,1111.0 849.3,1108.7 851.3,1105.3 853.0,1103.0 854.6,1105.3 856.1,1103.4 858.6,1111.0 860.0,1110.0 861.4,1107.7 863.5,1108.4 865.4,1103.8 867.0,1102.0 868.5,1101.5 870.7,1108.3 872.2,1111.0 874.0,1110.0 877.0,1111.0 879.7,1110.6 881.8,1108.3 884.8,1111.0 885.6,1111.0 887.1,1106.7 887.7,1105.7 888.6,1104.3 890.0,1100.0 891.9,1098.0 893.0,1095.5 894.8,1092.7 897.7,1095.4 900.2,1091.0 902.0,1095.3 903.2,1098.6 904.6,1100.1 906.0,1100.0 908.3,1095.7 911.0,1095.0 912.1,1091.4 913.9,1092.1 915.1,1092.3 916.9,1087.4 917.5,1091.7 918.4,1090.7 919.5,1097.5 920.0,1096.2 920.9,1095.4 921.8,1104.4 923.0,1104.5 923.4,1102.2 924.2,1107.1 925.2,1110.0 925.9,1106.8 926.4,1102.6 927.0,1101.4 927.6,1098.1 928.2,1097.5 928.5,1099.1 928.9,1089.9 929.7,1094.4 930.1,1090.4 931.0,1089.4 931.2,1083.8 932.5,1087.0 933.2,1085.7 934.9,1088.8 936.1,1095.8 936.7,1098.5 938.3,1098.1 939.5,1092.7 941.2,1090.6 942.9,1095.1 944.0,1090.0 946.0,1085.6 947.8,1088.1 949.3,1084.7 951.4,1083.8 954.1,1089.0 956.2,1088.6 956.5,1087.8 956.6,1080.5 956.8,1079.6 957.4,1077.0 957.3,1077.4 957.4,1076.0 958.1,1073.9 958.2,1070.1 958.6,1067.1 961.0,1066.3 962.6,1062.5 964.8,1063.4 967.2,1058.7 969.3,1058.8 970.1,1059.6 971.0,1062.3 972.4,1066.8 973.2,1068.3 974.7,1071.1 975.0,1074.3 976.4,1074.3 977.1,1071.1 978.7,1069.4 979.5,1067.6 980.8,1066.8 981.7,1064.6 982.5,1060.7 984.0,1057.8 985.1,1054.1 986.0,1051.3 987.1,1050.5 989.5,1053.3 991.9,1055.2 993.1,1051.3 994.9,1049.9 995.9,1047.9 997.4,1045.4 999.0,1043.3 999.5,1040.2 999.7,1038.5 1000.5,1035.2 1000.3,1032.9 1001.2,1031.0 1001.6,1029.9 1002.1,1026.1 1001.9,1023.3 1002.7,1021.1 1003.1,1019.7 1003.6,1018.0 1003.5,1015.2 1004.5,1013.2 1004.3,1010.6 1005.0,1007.6 1006.2,1005.6 1007.2,1002.9 1008.8,1001.0 1009.6,998.6 1011.0,995.7 1012.0,994.1 1013.4,991.9 1015.1,989.5 1017.7,986.6 1020.9,985.6 1021.9,983.5 1022.2,980.7 1023.0,978.5 1023.6,976.9 1023.6,973.2 1024.3,971.9 1025.4,969.2 1025.7,966.3 1027.7,963.7 1030.5,962.3 1032.5,960.5 1033.0,958.5 1032.8,954.7 1032.8,953.3 1032.8,950.0 1033.1,947.9 1033.4,944.5 1033.6,941.5 1033.5,939.2 1034.2,936.5 1035.1,934.4 1036.0,931.7 1036.4,928.6 1038.7,931.6 1041.2,933.4 1042.2,930.8 1042.8,926.7 1043.3,924.8 1044.1,921.8 1044.0,918.5 1044.6,917.1 1044.6,915.0 1044.8,912.2 1044.8,908.2 1045.0,907.1 1045.0,903.3 1044.9,901.0 1045.1,898.6 1046.2,901.5 1047.2,902.7 1047.8,905.0 1049.0,908.3 1050.9,906.3 1052.4,902.6 1053.8,900.5 1054.0,897.0 1054.0,894.4 1054.6,891.7 1054.8,888.9 1055.4,887.2 1056.3,883.7 1057.5,881.1 1058.6,879.3 1059.7,882.7 1060.0,884.9 1060.2,881.9 1060.4,880.0 1061.0,878.5 1060.8,874.2 1061.2,872.7 1061.6,870.2 1061.5,866.9 1061.5,865.9 1062.0,862.8 1062.6,859.5 1063.0,856.7 1063.2,854.0 1064.2,851.7 1064.6,849.6 1065.0,846.7 1065.7,849.5 1066.6,852.7 1066.9,854.5 1068.0,856.7 1068.4,853.6 1068.8,852.4 1069.1,848.0 1069.3,845.7 1069.1,843.0 1069.8,841.6 1070.3,838.6 1070.3,836.0 1070.7,832.9 1071.0,830.6 1071.2,827.6 1071.6,826.2 1072.3,823.5 1072.8,820.5 1072.5,817.7 1073.5,816.2 1074.0,813.5 1074.1,810.5 1074.7,808.0 1075.7,806.1 1076.3,803.1 1076.6,802.1 1077.2,797.9 1078.1,796.5 1080.2,798.1 1082.4,800.1 1085.1,800.5 1085.7,798.8 1086.5,796.3 1087.5,792.1 1088.1,790.4 1088.5,787.5 1087.9,786.0 1088.1,782.9 1087.9,780.9 1088.1,778.0 1088.1,775.6 1088.0,772.8 1088.1,770.4 1090.1,766.3 1091.2,768.8 1091.2,771.7 1092.4,774.1 1092.5,777.4 1093.5,779.5 1094.2,782.4 1094.8,780.7 1096.1,778.4 1096.6,774.2 1097.5,772.9 1098.2,770.4 1098.6,768.8 1099.0,766.2 1099.8,763.8 1100.9,759.8 1101.2,758.3 1103.8,757.2 1106.2,754.3 1106.6,752.3 1107.3,748.7 1107.5,747.3 1108.2,744.2 1110.5,745.0 1113.2,746.2 1114.9,743.1 1115.6,739.9 1117.3,738.2 1118.9,735.2 1120.3,733.5 1121.8,731.4 1122.5,728.8 1124.3,726.2 1124.7,722.9 1125.1,720.4 1126.2,718.2 1126.3,716.1 1127.8,715.0 1128.9,711.9 1130.3,710.1 1130.9,711.6 1131.7,714.1 1132.2,717.8 1133.2,719.9 1133.6,722.7 1134.3,724.2 1135.3,726.3 1135.5,729.5 1136.3,732.2 1137.1,730.1 1137.2,728.1 1137.6,724.2 1138.1,721.7 1139.0,720.5 1139.1,716.2 1140.3,714.0 1140.4,712.1 1140.9,714.4 1140.7,716.7 1140.9,720.7 1141.6,722.4 1142.0,724.7 1141.9,728.3 1142.4,730.2 1143.2,732.2 1144.1,735.0 1144.7,737.9 1145.6,740.7 1146.4,742.2 1150.4,740.2 1150.9,736.5 1151.3,734.7 1152.3,732.6 1152.6,729.0 1153.4,726.2 1154.6,727.5 1156.2,730.5 1157.4,732.2 1157.3,735.1 1158.1,737.8 1158.2,740.1 1158.8,743.0 1158.6,744.9 1159.1,747.4 1159.4,750.1 1159.4,752.3 1160.1,754.4 1160.7,756.8 1161.3,758.9 1162.3,762.8 1162.9,764.8 1162.8,766.8 1163.7,770.0 1164.5,772.4 1165.3,769.6 1166.2,767.7 1166.7,764.3 1167.5,762.3 1168.0,759.6 1168.4,757.5 1169.5,754.3 1169.4,757.5 1170.0,758.9 1170.0,762.0 1169.9,763.9 1170.2,766.9 1170.5,770.4 1170.8,772.3 1171.4,775.6 1171.1,778.1 1171.5,780.4 1172.0,782.4 1172.7,785.5 1173.2,787.9 1173.3,790.8 1174.2,793.2 1174.5,796.5 1178.5,798.5 1179.1,801.3 1179.3,804.8 1180.2,807.0 1181.2,809.2 1181.5,812.5 1182.8,809.3 1183.9,807.0 1185.6,804.5 1185.5,806.8 1186.4,809.9 1187.0,813.5 1187.3,814.9 1187.0,817.1 1187.6,820.6 1189.1,818.0 1189.9,815.4 1191.6,812.5 1191.7,814.8 1192.1,817.2 1191.7,820.3 1192.3,822.2 1192.4,825.3 1192.6,828.1 1192.9,829.4 1192.8,832.3 1193.1,834.7 1193.0,837.3 1193.1,839.9 1193.6,842.3 1193.2,844.3 1193.6,846.7 1195.4,849.5 1197.6,850.7 1197.7,852.8 1198.5,855.9 1198.8,859.4 1199.8,861.2 1200.0,863.2 1200.6,866.8 1201.4,868.7 1201.5,871.6 1202.1,873.8 1202.6,877.5 1203.2,878.8 1204.2,881.4 1204.6,884.9 1206.7,887.4 1208.7,888.9 1209.0,890.9 1209.8,894.0 1211.1,896.0 1211.5,897.7 1212.1,900.4 1212.7,902.9 1213.7,905.1 1213.9,907.8 1214.9,910.8 1215.9,912.3 1216.7,915.0 1217.3,917.6 1217.4,919.1 1217.8,922.6 1218.5,924.2 1218.7,928.1 1218.7,929.7 1219.6,932.0 1219.7,934.1 1220.0,936.8 1220.4,939.6 1221.2,942.7 1221.0,943.9 1221.7,946.7 1222.2,948.4 1222.0,951.9 1222.8,953.8 1223.2,956.8 1223.1,960.1 1223.6,962.3 1224.0,964.8 1224.0,966.8 1224.2,969.3 1225.4,972.7 1225.6,974.0 1225.7,977.5 1226.5,979.4 1227.6,981.3 1228.8,983.7 1229.8,986.9 1231.5,988.8 1233.8,990.9 1234.5,994.0 1234.9,996.1 1236.0,998.4 1236.5,1000.3 1236.7,1003.5 1237.3,1006.6 1238.1,1007.5 1238.5,1010.6 1238.3,1013.1 1239.1,1016.4 1239.7,1018.8 1240.3,1021.5 1240.9,1023.3 1241.0,1026.0 1241.8,1028.4 1243.7,1031.3 1245.8,1033.8 1245.9,1036.6 1246.4,1038.7 1246.6,1042.2 1247.3,1044.4 1247.8,1047.2 1248.5,1045.2 1249.8,1041.8 1250.7,1044.5 1251.5,1047.0 1251.8,1049.4 1252.4,1051.7 1253.4,1053.3 1253.9,1057.9 1255.2,1060.9 1255.6,1062.5 1257.2,1065.7 1257.9,1067.3 1258.0,1070.1 1258.7,1072.5 1258.8,1076.3 1258.6,1078.5 1258.9,1077.4 1259.5,1082.2 1260.0,1081.6 1260.2,1088.0 1260.5,1093.5 1260.6,1092.7 1262.0,1096.8 1263.5,1097.6 1264.4,1101.8 1265.9,1102.1 1266.3,1101.6 1267.6,1097.0 1268.2,1092.0 1268.8,1091.3 1268.9,1086.2 1269.9,1086.0 1271.3,1086.4 1272.7,1093.3 1274.0,1092.7 1275.6,1090.9 1277.5,1088.7 1278.9,1089.3 1280.7,1084.7 1281.2,1088.5 1281.5,1088.0 1282.6,1091.6 1283.0,1094.9 1283.6,1099.3 1284.3,1101.2 1284.7,1105.6 1285.6,1104.5 1286.0,1107.4 1288.9,1107.3 1291.4,1110.1 1292.1,1106.4 1293.4,1105.5 1294.2,1101.3 1295.4,1103.9 1296.3,1099.4 1297.4,1095.4 1298.1,1098.0 1299.5,1097.5 1299.9,1103.4 1301.0,1103.7 1302.0,1103.4 1302.8,1108.8 1303.8,1109.9 1304.2,1103.6 1305.4,1101.6 1306.5,1100.3 1306.8,1094.7 1308.0,1097.3 1308.8,1091.4 1309.6,1096.5 1310.2,1099.0 1310.9,1100.0 1311.7,1104.0 1312.1,1106.5 1312.6,1103.3 1313.6,1107.4 1314.2,1110.1 1315.1,1109.0 1315.9,1108.5 1316.9,1099.2 1317.5,1101.4 1318.4,1099.6 1319.5,1095.4 1320.1,1100.8 1320.9,1103.6 1321.3,1104.4 1322.6,1107.9 1322.9,1105.1 1323.5,1110.1 1324.5,1105.2 1325.2,1107.8 1325.4,1104.7 1325.8,1101.2 1326.9,1095.0 1327.5,1095.4 1327.8,1099.6 1328.0,1096.8 1328.7,1101.5 1329.5,1108.1 1330.0,1110.4 1330.2,1110.1 1331.1,1109.1 1331.7,1103.2 1332.3,1103.3 1332.8,1100.2 1333.8,1100.3 1334.5,1093.1 1334.5,1093.2 1335.9,1092.5 1336.2,1087.5 1336.9,1085.5 1337.9,1086.4 1339.4,1090.9 1340.9,1094.3 1342.0,1095.8 1343.7,1091.6 1344.9,1091.5 1346.6,1087.7 1348.0,1088.0 1349.4,1086.7 1350.3,1085.2 1351.7,1080.7 1352.4,1077.3 1354.0,1075.2 1354.8,1078.7 1355.3,1080.0 1355.6,1079.4 1356.1,1084.4 1356.7,1086.6 1356.8,1087.9 1357.4,1091.9 1358.0,1095.0 1359.3,1096.8 1359.9,1099.9 1360.8,1099.5 1361.8,1106.4 1362.6,1106.9 1365.4,1111.0 1368.0,1110.0 1371.6,1109.6 1374.6,1111.0 1375.2,1111.0 1375.1,1103.2 1375.0,1101.1 1375.7,1103.0 1375.5,1099.2 1375.6,1095.9 1375.8,1091.9 1376.5,1094.3 1376.7,1086.3 1376.8,1087.9 1376.8,1081.8 1377.2,1083.4 1377.2,1078.6 1378.1,1083.9 1379.6,1081.7 1381.4,1084.4 1382.3,1087.2 1384.1,1088.4 1385.5,1084.0 1386.6,1083.3 1388.3,1078.6 1389.3,1081.9 1389.6,1080.9 1390.5,1084.7 1390.6,1087.8 1391.7,1089.5 1391.8,1093.1 1392.7,1097.4 1393.6,1094.1 1394.2,1101.1 1394.4,1099.2 1395.5,1106.2 1396.1,1106.9 1396.6,1100.9 1396.9,1098.9 1397.2,1100.9 1398.0,1096.2 1398.3,1092.8 1398.8,1088.7 1399.0,1087.5 1399.7,1090.5 1400.2,1082.1 1400.3,1081.2 1400.5,1077.8 1401.2,1076.9 1405.5,1078.6 1405.9,1084.5 1406.7,1081.3 1406.8,1083.0 1407.0,1085.5 1407.8,1094.2 1408.0,1094.2 1408.4,1094.6 1408.8,1100.4 1410.0,1103.5 1410.0,1100.6 1410.6,1105.2 1411.5,1100.8 1413.2,1100.8 1414.5,1101.6 1415.7,1094.3 1416.7,1092.1 1418.4,1092.4 1419.7,1093.9 1420.9,1094.0 1422.0,1101.8 1422.5,1102.4 1423.5,1106.0 1425.1,1106.5 1426.1,1108.9 1427.0,1111.0 1427.8,1106.3 1427.9,1103.7 1428.9,1104.5 1428.9,1098.7 1429.3,1101.1 1429.8,1096.0 1430.8,1097.9 1431.5,1091.1 1431.4,1092.4 1432.1,1087.2 1433.4,1086.3 1434.3,1092.5 1435.5,1090.1 1436.9,1098.9 1438.1,1099.2 1439.5,1098.4 1440.7,1102.0 1441.5,1104.4 1443.8,1106.8 1446.2,1110.4 1448.3,1110.9 1450.1,1111.0 1450.8,1108.1 1451.7,1104.7 1452.5,1107.0 1453.1,1100.0 1454.7,1101.2 1454.9,1096.7 1456.0,1095.0 1457.4,1094.4 1458.2,1089.4 1459.3,1086.7 1460.7,1086.4 1461.9,1081.6 1462.6,1080.3 1463.1,1083.6 1463.4,1087.8 1464.5,1088.1 1464.9,1092.7 1465.3,1093.0 1465.5,1097.3 1466.4,1101.1 1466.8,1100.1 1466.8,1105.9 1467.7,1105.2 1470.4,1105.0 1472.6,1104.8 1474.6,1108.1 1477.2,1111.0 1477.4,1105.2 1478.2,1105.0 1478.5,1105.7 1478.9,1098.4 1479.1,1101.4 1479.7,1095.8 1481.0,1099.1 1482.9,1098.1 1484.4,1103.8 1486.0,1101.1 1487.5,1105.2 1488.4,1099.5 1488.8,1100.6 1489.5,1098.6 1490.4,1095.1 1490.8,1094.9 1492.0,1093.5 1492.8,1085.5 1493.4,1083.5 1494.2,1080.6 1494.6,1082.8 1495.5,1078.5 1496.0,1075.2 1496.4,1078.3 1497.4,1082.1 1497.9,1082.8 1498.1,1084.1 1498.5,1088.8 1499.5,1092.1 1499.7,1090.3 1500.3,1094.9 1500.8,1095.3 1501.5,1086.8 1501.7,1085.5 1502.4,1088.3 1502.3,1084.8 1502.9,1078.8 1503.4,1081.7 1504.3,1074.4 1504.6,1073.5 1507.1,1076.4 1509.5,1077.0 1511.5,1078.6 1511.7,1081.8 1512.2,1086.0 1513.3,1089.6 1513.6,1089.4 1514.2,1093.6 1514.5,1094.0 1515.7,1097.2 1516.3,1099.3 1516.6,1100.9 1518.3,1098.9 1520.0,1095.8 1520.9,1095.9 1522.5,1090.4 1523.7,1090.5 1524.6,1088.1 1525.4,1085.1 1526.9,1083.8 1527.8,1079.5 1528.2,1080.1 1529.0,1084.0 1529.0,1083.9 1530.1,1092.5 1530.1,1091.3 1530.6,1090.9 1531.0,1099.7 1531.6,1101.9 1532.2,1104.1 1532.9,1104.4 1534.2,1103.5 1534.8,1099.8 1535.9,1097.3 1537.2,1098.3 1538.1,1093.1 1539.7,1089.8 1540.7,1090.7 1541.5,1085.5 1544.5,1088.4 1546.5,1081.3 1549.5,1081.5 1552.1,1081.6 1554.4,1083.8 1556.9,1082.2 1560.3,1083.8 1562.5,1083.9 1565.5,1086.3 1566.0,1090.7 1566.8,1091.6 1567.4,1094.9 1567.8,1093.8 1568.5,1100.6 1569.5,1098.7 1569.9,1106.1 1570.7,1105.2 1571.5,1101.4 1572.8,1099.8 1573.4,1098.2 1574.1,1093.7 1575.4,1092.2 1576.0,1090.0 1577.1,1090.4 1578.0,1083.0 1578.4,1081.1 1579.0,1079.8 1580.5,1077.6 1581.4,1073.3 1581.7,1072.1 1582.7,1070.0 1583.2,1067.6 1584.6,1064.1 1585.2,1062.3 1586.8,1059.4 1588.3,1057.3 1589.5,1056.3 1590.3,1060.1 1591.0,1062.0" fill="none" stroke="#00BFFF" stroke-width="6" stroke-linejoin="round" stroke-linecap="round"/>
<polyline points="319.6,1111.0 322.0,1109.0 324.4,1110.8 324.9,1107.5 324.9,1106.9 325.9,1100.1 325.8,1099.5 326.4,1102.5 326.8,1096.5 327.7,1096.1 328.3,1091.9 329.8,1089.0 330.4,1085.2 333.3,1085.2 334.1,1087.8 334.2,1091.2 335.2,1094.3 335.7,1094.8 338.3,1094.2 341.7,1096.5 343.4,1096.5 345.2,1091.2 346.7,1089.5 347.6,1084.6 349.7,1083.8 351.1,1080.0 352.3,1077.0 353.3,1074.7 353.6,1074.0 354.6,1068.2 355.8,1067.3 357.5,1066.7 359.4,1062.0 359.5,1060.0 359.8,1056.9 360.3,1053.6 360.8,1052.0 361.1,1049.4 361.0,1046.5 362.9,1044.0 364.0,1040.0 364.8,1038.1 366.5,1036.3 367.2,1033.4 368.1,1031.6 368.6,1028.6 369.8,1026.3 370.2,1022.6 371.4,1020.4 372.3,1018.5 372.7,1014.4 372.7,1012.4 373.5,1010.0 374.0,1007.1 374.5,1003.7 374.2,1001.9 374.5,998.4 375.2,995.2 375.4,993.3 376.3,991.2 376.7,988.1 376.3,985.3 376.6,983.5 377.3,980.3 377.4,978.8 378.4,975.2 378.8,973.4 378.8,971.4 379.2,974.6 379.7,976.1 380.2,978.9 380.7,981.1 381.1,984.2 381.7,985.6 381.8,987.6 382.4,990.5 382.9,989.1 382.9,985.8 383.9,983.2 384.4,980.0 384.4,978.9 385.2,976.5 385.6,974.2 386.4,971.9 386.3,968.1 387.1,966.7 388.7,964.3 389.5,960.6 390.7,958.3 391.0,960.9 391.4,962.8 392.0,965.2 392.2,967.5 392.3,970.8 393.3,972.8 393.3,974.6 393.7,978.0 394.3,979.8 395.3,976.8 396.0,975.4 397.2,972.3 398.3,970.9 399.1,968.6 400.5,965.2 401.4,963.1 403.8,961.9 403.9,965.1 403.8,966.3 404.0,969.3 404.7,972.3 404.4,973.5 404.8,977.3 404.7,979.7 404.8,980.8 405.0,984.6 405.2,986.2 405.4,988.8 405.3,992.2 406.1,992.8 406.3,997.0 406.4,998.6 406.2,1001.2 407.3,999.8 409.1,997.2 410.2,994.8 411.4,991.8 412.9,990.0 412.9,991.9 413.4,995.1 413.6,998.0 414.5,1000.6 415.0,1003.1 415.1,1005.5 415.5,1006.2 415.5,1009.0 416.1,1012.4 416.8,1014.4 416.6,1017.3 417.4,1019.0 417.7,1021.9 417.8,1024.4 418.9,1026.3 420.8,1028.8 422.1,1030.3 423.5,1034.0 424.2,1036.0 426.0,1037.5 426.7,1040.2 426.6,1041.5 427.2,1044.4 427.6,1047.3 428.1,1044.7 428.2,1042.9 428.8,1039.0 429.2,1036.7 430.3,1035.9 430.5,1031.7 430.9,1029.7 431.6,1027.3 431.9,1025.3 432.5,1022.7 432.7,1024.5 433.2,1026.9 433.4,1030.5 433.6,1031.7 434.2,1034.7 434.4,1038.0 434.9,1040.5 435.0,1042.2 435.6,1044.8 435.8,1047.3 436.9,1044.8 437.6,1042.6 438.9,1040.5 439.7,1037.2 440.7,1035.8 441.3,1038.1 441.1,1041.6 441.8,1044.0 441.8,1045.2 442.3,1047.3 442.7,1051.3 442.8,1054.3 443.0,1056.5 443.2,1056.2 443.2,1058.2 443.4,1064.0 444.0,1065.3 444.4,1061.1 445.2,1062.2 446.4,1056.1 447.2,1054.2 447.9,1054.2 448.4,1053.1 448.7,1049.3 449.8,1046.9 450.5,1044.0 451.0,1046.7 452.5,1049.1 452.8,1049.0 454.1,1053.5 454.4,1054.4 455.5,1056.8 456.2,1061.3 457.0,1062.0 457.9,1064.2 458.8,1065.3 459.5,1071.6 460.4,1071.8 461.2,1070.7 462.7,1068.2 463.6,1065.2 464.1,1063.6 464.6,1060.4 464.7,1059.8 465.6,1053.9 465.9,1055.1 466.3,1050.9 470.7,1051.8 471.4,1054.0 471.5,1055.3 472.3,1057.8 472.5,1060.7 473.6,1064.8 473.9,1065.5 474.3,1068.8 475.0,1065.8 475.0,1064.0 475.3,1059.8 476.0,1058.3 476.4,1054.4 477.2,1052.5 477.8,1049.1 478.0,1048.0 478.6,1045.4 478.8,1042.9 479.5,1046.2 480.3,1048.2 480.7,1052.5 481.4,1053.6 482.1,1057.1 481.9,1058.4 482.6,1059.8 483.1,1064.2 482.9,1067.4 483.2,1066.9 483.9,1069.4 484.1,1073.2 484.8,1072.4 485.2,1067.4 485.2,1065.2 485.4,1064.7 486.4,1059.5 486.4,1058.0 487.0,1056.9 487.2,1052.0 487.7,1051.8 489.2,1048.5 490.8,1045.5 491.5,1047.4 491.9,1052.4 492.3,1053.1 493.4,1054.4 494.2,1056.1 494.2,1062.1 495.0,1064.7 495.7,1065.2 496.4,1063.7 496.9,1058.9 497.6,1057.8 498.1,1053.4 498.4,1051.8 499.4,1050.0 499.9,1046.5 501.0,1043.8 502.0,1041.1 505.5,1042.0 506.0,1045.1 505.9,1047.5 506.6,1050.7 507.2,1051.3 506.9,1056.1 507.2,1060.0 508.0,1060.0 508.2,1063.4 509.1,1061.3 510.0,1059.0 510.6,1055.1 512.0,1051.5 512.7,1050.9 516.3,1048.2 517.4,1051.8 518.3,1054.3 519.4,1054.7 520.2,1059.8 521.6,1060.7 521.7,1058.2 522.2,1056.8 522.5,1052.3 523.2,1050.6 523.6,1047.6 523.4,1044.5 523.7,1042.0 524.3,1040.2 527.1,1038.5 529.6,1035.7 529.7,1037.8 530.4,1040.9 530.7,1044.4 530.5,1046.6 530.9,1048.9 531.4,1051.8 532.1,1049.2 532.6,1045.9 533.0,1044.3 534.1,1041.1 535.3,1044.0 535.8,1046.6 536.9,1048.2 538.1,1051.0 538.6,1052.7 539.3,1051.1 540.4,1048.6 541.3,1045.5 541.8,1048.1 542.1,1048.1 542.2,1053.4 542.4,1055.1 542.8,1056.1 543.1,1057.8 543.3,1062.8 544.0,1064.9 543.6,1068.7 544.3,1070.6 544.4,1069.7 544.8,1074.1 545.5,1070.5 547.2,1069.4 548.1,1066.0 548.6,1065.2 549.9,1063.4 551.0,1061.3 551.8,1058.0 552.9,1054.5 553.8,1058.3 553.9,1061.0 554.4,1063.0 554.6,1062.6 555.2,1064.9 556.0,1067.7 556.5,1072.5 557.2,1073.8 557.5,1075.7 558.0,1080.9 558.9,1079.2 559.1,1083.9 559.7,1082.8 560.6,1077.5 561.1,1076.1 562.0,1073.0 562.6,1068.2 563.3,1069.0 564.1,1065.0 564.9,1061.3 565.7,1059.6 566.7,1057.4 567.7,1058.0 569.4,1061.3 570.4,1063.5 572.1,1068.1 572.7,1070.2 573.1,1073.7 574.0,1074.7 575.1,1075.4 575.1,1077.8 575.8,1082.0 576.6,1085.4 577.4,1086.9 578.1,1087.2 579.6,1092.9 580.0,1092.1 580.8,1090.0 581.2,1088.6 581.8,1081.2 582.7,1082.8 582.8,1076.9 584.1,1076.3 583.9,1073.5 584.6,1068.5 585.5,1068.1 586.8,1068.7 589.0,1070.2 590.3,1075.9 592.2,1076.2 592.9,1082.0 594.0,1083.1 594.0,1086.5 595.1,1084.3 595.4,1091.3 596.7,1089.0 597.1,1090.1 598.0,1094.0 598.3,1100.7 599.3,1100.0 600.2,1097.6 601.4,1097.0 602.2,1095.3 603.1,1093.6 604.0,1087.6 605.2,1087.9 605.9,1081.9 607.3,1082.8 608.2,1078.9 610.1,1082.4 612.0,1082.8 613.9,1086.4 616.3,1086.9 617.5,1089.0 618.0,1092.9 619.6,1092.1 620.6,1097.3 621.3,1101.3 622.5,1103.9 623.2,1102.2 624.3,1105.7 625.1,1100.4 625.8,1104.5 626.7,1099.5 628.0,1093.7 628.4,1092.7 629.7,1092.3 630.9,1087.6 631.4,1088.6 633.3,1083.9 634.0,1081.6 635.0,1081.5 637.9,1080.1 640.6,1080.5 643.1,1078.9 643.3,1081.6 643.7,1081.5 644.2,1088.6 645.4,1085.2 645.8,1088.9 646.0,1090.5 646.7,1094.0 647.1,1099.2 647.7,1102.7 648.0,1102.2 648.4,1105.7 649.0,1102.6 650.3,1102.8 650.9,1099.9 652.0,1095.0 654.2,1093.9 656.5,1092.3 660.0,1090.0 661.1,1089.7 662.9,1085.0 664.4,1084.1 665.1,1083.5 665.7,1090.7 666.5,1092.5 667.0,1091.8 667.6,1099.9 668.1,1098.3 668.8,1099.2 670.0,1106.8 670.8,1108.8 671.5,1109.4 671.8,1111.0 672.5,1108.9 673.6,1109.4 674.0,1107.0 674.6,1103.4 675.8,1102.6 676.5,1095.1 676.6,1091.9 677.5,1093.4 678.5,1089.5 679.1,1087.0 679.9,1086.1 680.2,1090.2 681.1,1093.1 681.3,1098.4 681.9,1096.1 682.3,1100.8 683.4,1101.3 684.2,1107.6 684.7,1111.0 685.0,1111.0 685.3,1107.6 686.0,1104.8 686.6,1103.9 687.4,1100.2 687.7,1097.2 688.5,1099.1 688.5,1092.4 688.9,1093.6 689.9,1086.3 690.1,1086.8 690.9,1084.1 691.3,1083.2 692.1,1090.7 692.9,1094.6 692.9,1097.0 693.5,1093.6 694.3,1097.7 695.1,1097.3 695.5,1100.0 696.5,1103.4 696.8,1107.6 697.2,1104.4 697.8,1099.2 698.6,1100.8 699.2,1100.3 699.3,1092.9 700.3,1094.0 700.9,1089.6 701.2,1087.0 701.8,1089.9 702.3,1089.8 703.7,1095.8 704.1,1100.2 705.2,1101.1 705.7,1104.7 706.4,1104.4 707.1,1107.6 707.7,1102.9 709.3,1104.2 709.7,1100.9 710.6,1097.2 711.5,1095.9 712.9,1100.4 714.1,1103.9 715.9,1101.6 717.6,1104.6 718.8,1107.6 720.1,1107.0 720.4,1102.5 721.8,1098.8 722.3,1096.9 722.6,1093.8 723.6,1093.0 723.9,1086.1 724.2,1085.6 725.1,1086.9 724.9,1082.7 725.4,1082.2 726.4,1076.2 726.5,1073.5 727.5,1073.8 727.6,1069.4 728.2,1071.0 728.8,1073.3 730.2,1075.7 730.3,1076.2 730.9,1079.5 732.0,1084.1 732.7,1086.9 733.1,1091.8 733.1,1094.2 734.4,1093.0 734.3,1094.1 734.8,1099.6 735.1,1102.7 736.4,1103.1 736.5,1107.6 738.3,1102.8 739.8,1100.9 741.0,1102.3 742.4,1098.8 743.2,1098.6 744.5,1105.4 746.1,1103.6 746.7,1110.9 748.2,1110.6 749.7,1111.0 750.8,1105.4 753.0,1103.2 754.1,1101.8 754.6,1102.5 755.3,1103.8 756.7,1107.6 757.1,1111.0 757.5,1105.6 758.8,1109.5 758.8,1107.5 760.0,1100.6 760.5,1099.2 760.6,1095.7 761.8,1093.6 762.3,1094.4 762.9,1090.0 764.1,1087.2 765.2,1084.4 766.0,1084.7 767.4,1079.7 768.1,1082.9 767.9,1087.3 768.9,1090.6 768.8,1087.5 769.0,1090.2 769.7,1098.4 769.9,1100.1 770.9,1096.5 771.4,1104.6 771.4,1106.4 771.8,1107.6 771.9,1107.1 772.6,1103.1 773.1,1097.9 773.4,1096.7 773.7,1094.7 774.3,1092.2 774.9,1094.3 775.3,1091.0 775.8,1084.5 775.5,1081.9 776.2,1081.2 776.9,1083.6 777.4,1084.9 778.2,1086.8 778.3,1090.5 779.2,1093.4 779.4,1099.1 780.0,1097.6 780.4,1097.3 781.2,1105.3 781.8,1102.0 782.1,1107.6 783.6,1104.4 784.2,1102.0 785.9,1100.9 787.0,1097.7 787.9,1095.9 788.7,1099.8 789.7,1099.1 790.5,1102.2 791.8,1106.4 792.4,1107.6 792.9,1105.6 793.8,1100.4 794.4,1100.6 795.3,1094.2 795.9,1093.0 797.0,1092.0 798.1,1094.9 798.6,1097.4 799.4,1102.1 799.8,1105.3 800.3,1106.2 801.2,1110.2 802.0,1110.0 802.9,1107.3 803.0,1103.5 804.0,1104.8 804.1,1097.0 804.7,1096.4 805.5,1097.4 806.3,1090.9 807.0,1090.0 809.9,1089.1 813.0,1088.0 813.7,1091.4 813.8,1092.4 814.8,1098.8 815.2,1094.8 816.2,1102.0 815.9,1099.5 816.8,1105.0 817.7,1110.4 818.0,1110.0 818.5,1106.2 819.5,1105.5 819.6,1100.1 820.4,1096.8 821.2,1093.7 821.5,1094.7 822.0,1092.0 823.8,1086.5 826.0,1087.0 826.8,1089.3 826.9,1092.4 827.8,1098.1 828.0,1097.4 829.1,1098.3 829.4,1099.7 829.8,1105.8 830.8,1109.4 831.0,1110.0 831.9,1110.1 832.0,1102.9 832.8,1102.0 834.0,1097.8 834.6,1095.5 835.0,1095.0 835.7,1095.8 836.9,1093.3 838.0,1088.0 838.2,1088.4 838.9,1089.6 839.6,1094.5 839.4,1100.2 840.1,1099.5 840.5,1100.3 841.3,1103.4 841.2,1106.4 842.0,1110.0 842.3,1105.4 842.5,1105.4 842.8,1103.8 843.4,1101.0 843.9,1094.9 844.0,1093.9 844.4,1092.8 844.3,1089.1 845.0,1087.0 845.7,1091.6 845.9,1092.1 846.6,1093.0 846.5,1098.6 847.5,1102.1 848.0,1101.3 848.0,1105.0 848.2,1102.4 848.7,1101.7 849.4,1099.4 849.7,1092.5 850.1,1095.4 850.9,1090.7 851.0,1088.0 851.5,1090.1 852.4,1093.5 852.3,1093.2 853.3,1099.7 854.1,1098.8 854.4,1105.4 855.2,1108.6 855.3,1109.3 856.0,1110.0 856.7,1103.9 857.0,1106.6 857.7,1102.2 858.4,1098.0 858.7,1097.7 859.4,1091.9 860.1,1090.8 860.4,1087.2 861.0,1087.0 861.5,1087.4 861.8,1092.7 862.7,1091.5 863.2,1095.1 863.5,1097.4 864.7,1102.6 864.9,1107.5 865.1,1106.7 866.0,1110.0 866.4,1105.9 866.7,1108.2 867.5,1105.7 867.8,1099.5 868.2,1100.8 869.0,1095.0 871.0,1093.0 873.0,1090.0 873.5,1090.3 874.7,1098.5 875.6,1099.2 876.2,1097.1 876.5,1104.3 877.9,1104.7 878.5,1106.3 879.0,1110.0 879.8,1105.1 880.3,1103.3 881.3,1101.6 881.7,1101.8 882.3,1098.8 883.0,1095.0 884.2,1094.7 885.8,1090.3 887.1,1087.4 887.7,1089.2 889.2,1090.2 890.3,1093.1 891.5,1097.8 892.3,1102.8 893.1,1102.9 895.7,1100.8 899.0,1100.5 901.2,1098.9 902.8,1099.5 905.0,1094.5 906.4,1094.2 907.0,1100.6 907.7,1102.8 909.1,1103.6 909.7,1106.2 911.0,1107.6 911.8,1102.6 912.2,1105.6 912.9,1096.9 913.9,1100.2 915.1,1095.4 915.2,1094.2 915.8,1092.4 916.9,1088.6 920.6,1087.0 924.0,1088.6 924.5,1088.6 925.7,1093.5 926.4,1099.1 927.6,1098.1 927.8,1097.7 928.1,1095.2 928.3,1091.6 928.7,1085.9 928.9,1087.5 929.2,1080.8 929.4,1077.3 929.9,1077.9 929.9,1075.5 930.0,1070.4 930.4,1069.2 930.7,1067.7 931.2,1064.8 931.8,1068.3 932.4,1070.3 932.7,1072.0 932.9,1073.5 933.7,1078.0 934.6,1076.2 934.8,1082.0 935.0,1083.4 935.5,1089.8 936.7,1087.6 936.8,1088.2 937.1,1093.2 937.7,1098.8 938.3,1098.1 939.0,1092.3 939.9,1089.9 940.8,1093.9 941.3,1085.6 941.8,1085.2 942.4,1082.9 943.4,1079.4 944.4,1076.7 945.1,1075.4 945.1,1073.7 946.2,1073.9 946.9,1071.7 947.2,1068.8 948.3,1066.7 949.0,1063.6 949.8,1067.9 951.5,1066.2 952.5,1072.2 953.8,1073.4 955.0,1074.2 955.8,1077.4 957.6,1077.8 958.6,1081.4 960.0,1077.5 961.3,1076.0 963.1,1075.6 964.3,1074.9 965.7,1070.7 968.0,1070.2 970.3,1070.4 972.9,1073.1 973.5,1071.0 973.7,1066.9 974.2,1063.8 974.8,1063.1 975.6,1062.2 976.0,1057.3 976.7,1053.5 977.0,1054.1 977.6,1050.5 978.1,1054.1 978.8,1054.5 979.8,1057.0 980.7,1061.6 981.2,1063.6 981.8,1059.5 981.9,1058.7 982.3,1056.5 982.7,1052.7 983.4,1052.3 983.4,1050.1 984.2,1047.7 984.8,1045.0 985.0,1041.4 984.9,1040.6 986.0,1037.6 986.0,1035.0 986.9,1037.1 987.1,1040.9 987.5,1041.9 988.3,1045.8 988.9,1047.3 989.3,1052.0 990.5,1050.6 990.7,1055.2 991.1,1051.9 991.4,1052.4 992.4,1047.0 992.3,1044.8 992.8,1043.7 993.3,1041.2 993.7,1037.5 994.4,1035.5 994.9,1032.8 995.6,1030.1 996.0,1028.9 995.9,1026.2 996.7,1023.1 997.1,1025.2 998.4,1027.5 999.0,1031.6 999.1,1033.4 999.7,1035.7 1000.5,1039.3 1001.4,1041.0 1002.2,1038.1 1002.6,1035.4 1002.8,1033.1 1003.5,1030.2 1003.5,1028.3 1004.1,1026.4 1004.2,1023.1 1004.5,1021.2 1005.2,1019.3 1005.6,1015.4 1006.2,1013.6 1006.7,1015.4 1007.3,1018.8 1007.8,1021.0 1008.8,1023.8 1009.4,1026.3 1009.8,1029.0 1010.0,1026.5 1011.1,1023.4 1011.2,1021.5 1012.0,1019.1 1012.1,1016.4 1012.4,1013.9 1013.2,1011.8 1013.7,1009.2 1014.4,1006.7 1015.1,1003.6 1015.5,1001.0 1015.7,999.3 1016.5,1001.2 1016.6,1004.0 1017.8,1007.1 1018.4,1010.3 1018.3,1013.2 1019.3,1014.8 1019.3,1012.1 1019.9,1010.4 1020.5,1007.9 1020.8,1005.9 1021.0,1003.2 1021.6,999.1 1021.3,996.7 1021.8,995.7 1021.9,992.9 1022.8,989.5 1023.0,986.7 1023.1,986.0 1023.9,983.1 1024.0,980.2 1025.2,982.7 1025.5,985.1 1026.9,986.4 1027.6,990.2 1028.8,991.5 1030.9,991.2 1033.5,991.2 1036.1,990.0 1038.3,989.5 1039.1,986.2 1039.9,984.9 1040.0,981.3 1041.2,978.5 1041.5,976.5 1042.2,974.0 1042.6,971.6 1042.6,968.7 1043.2,967.1 1042.9,963.6 1043.7,962.4 1043.8,959.3 1044.1,956.6 1044.8,955.1 1045.2,951.2 1046.4,949.1 1047.0,947.0 1048.7,949.3 1049.6,952.4 1050.9,954.7 1051.8,952.6 1052.6,950.1 1053.4,947.5 1054.1,945.7 1055.0,943.2 1055.7,940.9 1056.8,937.8 1057.7,935.4 1060.4,934.8 1063.5,933.4 1064.0,933.1 1064.3,935.2 1065.2,938.4 1065.5,939.9 1066.7,942.8 1066.9,945.9 1067.6,948.2 1068.0,951.2 1068.6,949.3 1068.8,945.2 1068.9,943.6 1069.6,941.7 1070.2,938.2 1070.5,936.3 1071.0,934.3 1071.1,930.8 1071.7,928.7 1072.1,926.1 1072.3,922.5 1073.1,921.0 1073.3,922.9 1074.3,926.9 1075.0,928.2 1075.0,931.6 1075.7,934.4 1076.2,937.5 1077.1,939.1 1077.1,936.2 1077.8,934.9 1077.5,931.9 1078.2,929.1 1078.5,925.9 1078.8,925.0 1078.7,922.3 1078.7,920.4 1079.1,917.0 1079.1,919.1 1080.0,921.3 1080.3,923.6 1080.7,926.6 1080.9,929.8 1080.7,932.4 1081.3,933.7 1081.9,936.5 1082.1,939.1 1082.6,937.4 1082.9,935.0 1083.1,931.4 1083.7,929.8 1083.7,926.6 1083.9,924.6 1084.0,922.7 1084.8,919.8 1085.1,917.0 1085.8,919.1 1086.8,922.3 1087.2,925.8 1088.1,928.5 1088.7,929.7 1089.1,933.1 1089.8,931.3 1089.7,928.7 1090.2,925.1 1090.6,922.7 1091.0,921.0 1090.9,918.1 1091.6,916.7 1091.8,913.2 1092.1,911.0 1093.0,913.3 1093.6,915.8 1094.9,919.2 1095.2,921.1 1096.2,923.0 1096.8,919.9 1097.2,918.7 1097.7,915.1 1097.9,913.2 1098.4,910.9 1099.1,908.6 1099.0,906.8 1100.1,903.5 1100.2,900.9 1100.5,903.8 1100.2,906.8 1100.9,909.3 1100.8,911.5 1100.9,914.2 1101.2,916.6 1101.8,920.0 1102.0,921.7 1102.0,924.2 1102.2,927.0 1102.9,923.8 1103.3,922.4 1103.7,918.5 1104.0,915.7 1104.0,914.1 1105.1,911.4 1105.2,909.0 1105.7,911.6 1106.4,914.3 1107.1,916.8 1108.2,917.5 1108.3,919.8 1109.2,923.0 1109.4,921.0 1110.5,918.1 1110.6,915.7 1111.5,913.5 1111.8,910.7 1112.2,908.0 1112.6,910.1 1113.4,913.8 1113.2,914.3 1114.1,917.2 1114.1,919.5 1114.5,923.1 1115.2,925.0 1115.7,923.3 1116.5,920.5 1117.0,916.4 1117.0,914.2 1117.9,910.8 1118.3,909.0 1118.4,911.5 1118.7,914.5 1118.9,916.1 1119.8,918.3 1119.5,921.1 1120.2,922.9 1120.7,925.4 1121.0,927.4 1121.3,930.9 1121.3,933.1 1121.4,930.2 1122.3,927.3 1122.3,924.4 1123.3,923.3 1123.7,920.9 1124.2,917.7 1124.3,915.0 1126.8,917.4 1129.3,919.0 1129.2,921.4 1129.6,923.2 1129.7,926.5 1130.4,930.0 1130.9,932.0 1131.1,933.5 1130.9,937.5 1131.3,939.1 1134.5,939.4 1137.3,941.1 1139.1,939.9 1140.4,937.1 1141.7,939.2 1142.6,940.9 1144.0,944.0 1146.9,943.2 1149.4,942.7 1150.1,944.4 1150.5,946.9 1150.7,949.8 1151.2,953.6 1151.4,955.4 1151.8,957.6 1152.3,959.8 1152.0,963.3 1152.5,966.6 1152.8,967.4 1153.4,970.8 1155.2,967.9 1157.4,966.8 1158.6,964.8 1159.3,962.2 1160.0,960.2 1160.4,956.9 1161.4,954.7 1162.3,956.5 1163.4,959.0 1164.2,961.7 1165.1,964.7 1165.7,966.3 1166.8,969.5 1167.0,972.5 1168.1,975.2 1168.5,977.3 1169.0,980.4 1169.3,982.9 1169.5,985.5 1171.3,987.2 1173.5,988.2 1173.8,990.9 1174.1,993.5 1174.5,997.1 1174.2,999.6 1174.9,1002.0 1174.6,1005.2 1175.6,1006.4 1175.5,1009.7 1176.4,1006.8 1177.0,1004.5 1177.9,1001.5 1178.7,999.9 1179.3,996.9 1180.2,993.6 1182.3,995.4 1184.2,996.3 1187.2,996.8 1189.6,996.3 1190.8,998.1 1191.1,1001.9 1191.8,1004.3 1192.9,1007.0 1193.5,1009.1 1193.8,1012.8 1193.4,1014.3 1194.0,1017.4 1194.2,1020.8 1194.7,1023.5 1194.9,1025.7 1196.1,1028.0 1197.0,1030.2 1197.5,1033.1 1198.9,1036.4 1200.7,1038.2 1202.4,1040.2 1204.3,1041.8 1205.6,1040.4 1206.1,1036.6 1207.6,1036.0 1208.5,1032.1 1209.6,1031.0 1211.0,1028.4 1212.1,1030.5 1213.1,1032.8 1214.2,1036.3 1215.0,1037.8 1217.8,1039.0 1220.5,1039.2 1223.1,1040.5 1224.9,1043.0 1226.8,1044.9 1228.4,1047.2 1228.8,1049.2 1228.5,1054.4 1229.5,1053.8 1229.6,1055.6 1229.3,1060.3 1229.5,1063.1 1230.0,1066.6 1230.7,1069.5 1230.5,1068.6 1231.1,1071.2 1231.1,1075.3 1231.4,1070.8 1232.7,1068.2 1233.0,1066.1 1233.8,1064.3 1234.8,1061.5 1235.1,1059.2 1237.3,1059.4 1239.4,1062.6 1241.8,1061.9 1244.8,1059.8 1247.2,1060.6 1248.3,1062.1 1248.6,1066.6 1249.2,1066.7 1250.2,1071.4 1250.7,1071.3 1252.0,1073.1 1252.5,1076.6 1253.9,1073.0 1255.2,1073.1 1256.5,1070.6 1257.9,1068.6 1258.5,1069.8 1258.6,1075.4 1259.2,1075.0 1259.0,1076.5 1259.9,1082.1 1259.6,1084.2 1260.0,1089.6 1260.6,1088.7 1263.7,1089.3 1266.1,1094.3 1268.6,1094.0 1270.0,1093.1 1270.5,1097.5 1272.4,1102.4 1273.1,1099.2 1274.2,1107.5 1275.7,1105.3 1276.6,1108.8 1277.5,1105.9 1277.9,1106.3 1277.9,1102.8 1278.7,1100.1 1279.2,1096.1 1279.4,1092.3 1280.1,1094.2 1280.7,1088.7 1284.4,1085.2 1287.4,1087.4 1288.2,1089.9 1288.5,1091.1 1289.7,1093.5 1290.4,1095.6 1291.1,1098.2 1291.4,1102.1 1294.5,1100.2 1297.4,1100.3 1300.8,1103.4 1302.5,1106.1 1304.1,1108.7 1306.1,1111.0 1306.9,1107.0 1307.6,1108.7 1309.1,1102.6 1309.5,1101.1 1310.3,1101.6 1311.5,1095.4 1313.4,1091.1 1316.4,1091.6 1318.3,1088.8 1320.8,1088.7 1322.1,1092.8 1324.3,1089.2 1325.8,1091.7 1327.5,1096.7 1329.5,1092.6 1331.3,1096.2 1333.3,1090.5 1335.1,1090.6 1338.2,1091.2 1342.0,1088.9 1342.9,1089.3 1343.7,1093.5 1344.7,1096.9 1345.7,1101.0 1346.4,1098.3 1347.5,1099.9 1348.6,1107.7 1350.0,1106.8 1350.6,1109.5 1354.3,1111.0 1357.5,1111.0 1358.0,1106.7 1358.7,1106.3 1359.3,1102.8 1360.4,1099.6 1360.9,1099.8 1361.7,1096.5 1361.9,1095.7 1362.9,1094.4 1364.0,1088.4 1364.3,1087.2 1366.8,1091.2 1369.5,1091.5 1370.7,1090.2 1372.0,1095.4 1373.4,1095.1 1374.8,1098.3 1375.8,1102.5 1377.2,1104.4 1379.0,1105.0 1380.8,1098.0 1382.8,1096.0 1385.1,1100.5 1386.6,1095.8 1389.2,1095.8 1392.1,1091.7 1395.2,1092.4 1396.8,1093.6 1398.2,1093.2 1399.8,1098.2 1401.2,1100.9 1401.7,1100.9 1402.2,1097.0 1403.0,1093.6 1403.5,1088.3 1403.8,1089.2 1404.9,1085.1 1405.0,1083.5 1405.8,1080.7 1406.2,1079.2 1406.7,1076.8 1407.6,1075.3 1408.1,1071.1 1409.0,1069.7 1408.9,1070.2 1409.7,1066.8 1410.7,1061.9 1411.2,1063.0 1411.5,1058.9 1412.7,1062.1 1413.4,1064.3 1414.4,1067.3 1414.8,1070.8 1415.8,1071.8 1417.5,1068.4 1419.2,1067.5 1419.8,1070.5 1420.8,1074.2 1421.3,1076.0 1421.7,1078.6 1422.6,1080.3 1423.2,1079.2 1424.4,1077.2 1425.0,1072.0 1426.1,1071.0 1426.6,1069.0 1427.8,1067.3 1428.7,1063.2 1430.3,1065.2 1431.5,1068.2 1432.9,1070.0 1434.6,1067.1 1436.2,1063.9 1438.1,1064.0 1439.8,1067.4 1442.4,1066.2 1444.1,1070.0 1445.0,1071.9 1446.0,1075.3 1446.9,1076.6 1447.8,1076.2 1448.5,1080.9 1449.4,1083.3 1450.1,1087.2 1451.9,1088.0 1453.8,1089.4 1455.0,1094.4 1457.0,1094.1 1457.7,1093.5 1457.4,1087.4 1458.3,1090.0 1458.4,1081.8 1458.3,1085.1 1458.6,1081.7 1459.1,1078.5 1459.1,1074.7 1459.9,1073.1 1460.0,1070.0 1463.4,1071.8 1463.4,1073.4 1463.9,1075.0 1464.6,1082.8 1465.0,1084.6 1465.1,1081.6 1465.8,1089.9 1466.1,1092.7 1466.4,1093.2 1466.5,1097.1 1466.9,1096.6 1467.4,1090.7 1468.0,1088.0 1468.6,1089.6 1469.1,1084.5 1470.1,1082.8 1471.1,1081.9 1471.2,1075.6 1472.0,1076.1 1472.7,1075.6 1472.9,1082.2 1472.7,1086.1 1473.4,1089.3 1473.8,1089.9 1474.1,1093.3 1474.4,1092.5 1475.0,1098.3 1475.4,1099.2 1475.8,1094.1 1476.3,1094.5 1477.2,1092.2 1477.7,1089.9 1478.3,1084.9 1478.5,1087.0 1478.7,1077.8 1479.9,1080.5 1480.1,1077.1 1480.6,1073.5 1480.7,1076.2 1481.7,1079.2 1481.8,1078.9 1482.2,1086.0 1482.2,1084.9 1483.1,1090.2 1483.0,1093.7 1483.7,1095.3 1484.0,1095.1 1483.9,1097.7 1484.7,1097.4 1484.9,1103.5 1484.9,1102.9 1485.5,1095.5 1486.3,1094.1 1486.5,1091.6 1486.7,1091.8 1487.2,1091.5 1487.8,1086.7 1487.8,1083.5 1488.6,1085.0 1488.8,1079.6 1489.2,1076.9 1489.5,1080.2 1490.1,1078.8 1490.2,1087.3 1490.8,1090.4 1491.5,1093.0 1491.5,1090.3 1492.6,1097.2 1492.7,1099.1 1493.3,1099.7 1493.7,1104.2 1494.1,1102.9 1494.3,1106.9 1497.2,1111.0 1499.8,1105.7 1502.9,1110.4 1503.5,1108.9 1504.3,1108.3 1504.6,1104.1 1505.7,1100.3 1506.6,1100.5 1506.9,1093.2 1507.2,1095.8 1508.0,1086.7 1508.9,1087.2 1511.1,1087.2 1513.8,1085.3 1515.8,1082.1 1517.1,1086.0 1519.4,1086.9 1521.2,1088.7 1522.6,1088.9 1523.1,1093.6 1523.4,1096.4 1523.6,1093.4 1524.0,1101.8 1524.8,1101.0 1525.2,1105.0 1525.3,1105.9 1525.5,1105.5 1526.1,1111.0 1526.6,1106.1 1526.7,1106.3 1527.2,1104.6 1527.6,1100.4 1528.1,1098.5 1528.8,1099.4 1529.3,1096.2 1530.1,1090.1 1530.3,1088.9 1530.8,1089.7 1531.7,1094.8 1531.4,1097.7 1532.6,1098.4 1532.6,1103.7 1533.0,1101.0 1533.4,1107.9 1533.9,1111.0 1534.6,1111.0 1535.4,1109.9 1535.9,1104.2 1536.4,1104.6 1537.4,1101.4 1537.8,1102.0 1538.6,1093.9 1539.3,1094.5 1539.7,1094.3 1540.6,1088.9 1541.2,1091.4 1541.7,1091.6 1542.2,1095.9 1543.3,1100.7 1543.3,1104.6 1544.4,1102.7 1544.3,1103.1 1545.6,1105.4 1545.8,1111.0 1547.4,1108.5 1549.5,1103.1 1550.9,1103.5 1553.6,1109.3 1556.0,1108.0 1558.1,1109.0 1559.7,1102.6 1562.0,1102.0 1563.4,1102.6 1565.0,1105.1 1567.0,1108.0 1569.6,1102.9 1571.5,1104.4 1571.8,1104.3 1571.6,1098.2 1572.0,1097.0 1571.8,1092.7 1572.2,1091.9 1571.6,1087.9 1572.4,1085.7 1572.3,1081.5 1572.1,1078.6 1572.0,1079.6 1572.4,1076.1 1576.7,1076.9 1577.1,1079.3 1577.6,1081.5 1577.6,1087.5 1578.3,1089.6 1578.6,1091.1 1579.0,1093.6 1579.2,1095.8 1579.6,1094.6 1580.6,1091.7 1581.4,1087.8 1581.7,1084.2 1582.4,1083.4 1583.0,1078.1 1583.5,1077.8 1585.5,1077.3 1587.7,1082.0 1589.5,1084.6 1591.0,1086.0" fill="none" stroke="#FF7171" stroke-width="6" stroke-linejoin="round" stroke-linecap="round"/>
<polyline points="313.7,1111.0 313.5,1106.2 313.7,1104.5 314.1,1099.3 314.3,1099.5 315.9,1100.5 317.0,1095.4 319.6,1097.7 320.0,1096.8 320.6,1092.3 321.1,1086.9 322.0,1086.4 323.8,1082.0 325.0,1081.7 327.0,1081.7 328.6,1076.9 329.7,1076.1 331.4,1071.7 332.7,1070.4 336.3,1073.3 337.4,1071.2 337.5,1068.8 338.6,1064.0 339.1,1062.1 339.1,1059.2 339.4,1056.7 340.4,1056.3 340.5,1052.0 341.0,1049.8 341.9,1048.2 342.5,1045.0 344.3,1041.0 345.3,1039.0 345.6,1035.5 346.3,1032.9 347.0,1030.0 347.8,1026.8 349.0,1025.0 349.2,1023.1 350.1,1019.1 350.6,1017.1 350.9,1014.9 351.3,1013.5 352.1,1010.0 352.2,1006.9 352.7,1004.4 353.2,1001.2 354.1,998.5 354.7,996.1 355.0,994.9 355.9,990.8 356.8,989.3 357.1,987.3 357.2,983.7 357.5,981.0 358.0,978.2 358.4,977.3 358.7,974.4 358.6,971.4 358.6,967.9 359.2,967.2 359.5,963.6 359.5,961.5 359.2,958.3 359.3,956.0 359.8,953.6 360.3,950.8 359.6,948.1 359.8,945.0 360.0,943.9 359.9,940.4 360.3,939.2 360.4,935.7 360.4,932.7 360.8,930.1 361.1,928.9 361.8,925.3 362.1,923.8 362.7,920.7 362.5,917.8 362.6,916.4 362.8,914.2 363.0,910.1 363.2,907.0 363.7,904.8 363.6,903.3 363.8,900.0 363.7,896.6 363.8,894.5 364.5,892.0 363.9,889.3 364.5,888.4 364.5,886.0 364.8,883.3 364.8,880.0 365.3,878.1 365.1,875.0 366.0,871.9 366.3,870.8 366.4,867.2 366.7,865.6 366.9,863.1 367.3,860.3 367.7,857.0 367.7,855.0 367.6,853.5 368.6,851.1 368.2,848.0 368.5,846.0 369.2,843.7 369.1,839.4 369.7,838.2 370.2,835.9 369.8,832.4 370.0,831.4 370.7,828.1 370.6,826.3 371.3,823.7 371.2,821.3 371.1,818.8 371.4,815.9 371.9,813.8 371.9,810.5 371.7,807.1 372.2,805.7 372.5,803.8 372.4,799.8 372.7,798.6 373.2,794.5 372.7,793.7 373.1,790.6 373.4,788.0 373.4,786.1 373.7,782.4 373.6,781.4 374.2,777.2 374.3,776.2 374.7,772.8 374.2,771.0 374.5,768.7 375.2,765.0 375.3,762.7 375.6,759.7 375.1,757.2 375.5,755.3 376.1,752.9 375.5,750.7 376.1,747.8 376.2,744.9 376.4,742.7 376.0,740.2 376.7,737.2 376.7,735.0 376.7,733.7 376.8,730.6 377.1,727.3 377.2,725.1 377.2,722.3 377.1,720.7 376.8,717.5 377.0,715.7 376.9,712.9 377.0,709.3 377.4,707.6 377.2,705.7 377.5,703.4 377.5,700.2 377.4,697.8 378.2,694.8 378.0,691.9 377.9,689.7 377.7,686.5 378.5,685.9 378.5,683.1 378.1,680.9 378.4,677.6 378.9,675.1 379.0,672.9 378.8,669.1 378.8,667.4 379.2,665.3 379.5,662.8 379.9,659.7 379.8,657.5 380.1,656.0 380.0,652.4 380.6,650.0 381.0,648.9 380.8,645.3 381.0,643.7 381.4,640.6 381.1,637.9 381.6,635.0 381.8,633.6 382.2,630.4 381.7,628.5 382.4,624.9 382.5,624.2 382.1,621.0 382.2,617.5 382.8,615.3 382.8,614.1 382.5,610.2 382.8,608.4 383.4,605.5 383.4,602.8 383.4,601.3 383.4,599.4 383.5,596.0 383.6,592.7 383.8,590.6 384.7,587.6 384.8,585.6 384.9,583.9 385.3,581.4 385.3,579.3 385.5,576.2 385.5,573.6 385.8,571.6 385.7,568.7 386.2,567.0 386.2,563.0 386.5,562.2 387.1,558.8 387.0,557.3 387.3,553.9 387.9,550.7 388.2,548.3 388.1,546.8 388.1,543.7 388.8,542.6 388.9,539.0 389.3,537.0 389.6,534.0 389.7,533.2 390.2,530.6 390.3,527.1 390.4,525.5 390.6,521.7 390.8,520.0 390.7,518.3 391.2,515.3 390.6,512.7 390.9,510.2 391.2,508.2 391.5,504.6 391.1,502.7 391.6,500.6 391.7,498.2 391.6,495.2 391.5,492.6 391.4,490.8 391.8,486.5 391.7,484.8 391.5,482.5 391.5,479.2 392.2,477.9 391.6,475.2 392.0,472.3 392.4,470.8 391.9,467.4 392.5,465.5 392.1,462.6 392.3,460.3 392.5,457.4 393.2,454.6 393.3,452.9 393.0,449.5 392.9,447.7 393.8,444.8 393.5,442.5 393.9,440.5 393.9,437.1 394.0,435.7 393.7,432.5 394.4,429.2 394.1,428.5 394.3,425.7 394.8,423.0 394.7,419.9 394.8,417.3 394.7,414.3 395.0,412.8 396.8,410.4 398.2,408.1 399.5,406.8 400.1,403.3 399.5,400.8 400.3,398.3 400.5,396.6 400.0,393.6 400.5,390.6 400.4,389.3 401.1,385.1 401.0,383.0 401.5,379.8 401.3,377.8 401.7,376.1 401.8,372.5 401.8,370.3 402.0,367.6 401.6,365.5 401.9,362.8 402.5,360.9 402.1,359.1 402.1,357.4 402.9,353.5 402.8,352.5 402.4,350.2 403.0,347.6 403.0,344.4 403.6,342.2 403.4,338.5 404.0,336.0 404.4,334.3 404.9,331.3 405.3,329.7 405.4,326.5 405.6,323.2 406.2,321.2 406.6,319.5 407.2,317.2 407.8,314.6 408.5,311.8 408.6,310.4 409.7,306.7 409.5,303.9 410.6,301.3 411.2,299.8 411.4,296.8 412.1,294.6 413.8,292.0 414.4,289.9 415.8,287.9 416.3,285.2 416.8,282.6 416.9,279.7 418.0,278.5 418.0,275.3 418.8,273.0 419.2,269.9 419.5,268.5 419.8,266.0 420.2,261.8 420.5,260.0 420.4,257.6 421.4,254.4 421.1,251.1 421.8,249.2 422.1,246.1 422.7,244.1 423.0,242.1 423.9,239.0 424.7,237.0 424.8,234.4 424.9,232.7 425.3,228.8 425.4,226.7 425.6,224.7 425.7,221.3 426.4,219.5 426.3,217.1 426.8,213.5 428.8,211.0 430.7,207.6 431.4,204.1 431.2,203.2 432.2,200.8 432.4,197.6 432.5,194.3 433.6,192.2 433.7,189.7 434.4,186.7 435.3,184.3 435.8,182.3 438.1,182.3 438.9,186.0 439.0,187.3 439.6,189.5 440.4,193.9 440.5,195.1 441.1,198.7 441.3,200.3 441.4,204.4 442.1,206.7 441.7,209.0 442.5,211.7 442.0,214.3 442.5,214.7 442.8,218.2 443.2,219.7 443.4,223.3 443.5,225.4 443.8,228.1 443.6,231.1 443.9,233.2 444.6,235.2 444.5,238.3 445.0,240.8 445.2,243.1 445.7,245.7 445.6,249.2 447.1,250.7 448.0,253.7 449.2,255.5 450.6,258.1 450.8,261.1 450.8,263.0 451.0,265.7 451.6,267.8 451.8,270.4 451.7,272.9 452.3,276.1 452.7,278.0 452.4,279.9 452.6,282.1 453.0,284.9 453.3,286.9 453.9,289.1 454.2,291.6 454.7,294.7 455.5,297.5 456.0,298.8 455.8,300.9 456.2,304.9 457.3,305.3 457.5,308.7 458.4,310.2 458.7,313.8 460.1,315.6 460.2,318.4 461.4,321.0 461.9,323.6 463.8,321.7 466.4,320.6 466.5,323.6 466.8,324.6 467.6,328.9 468.1,330.8 468.3,333.7 469.0,334.9 469.2,336.7 469.7,340.6 470.4,342.5 470.7,344.8 470.9,347.4 471.7,344.9 472.9,342.7 474.0,339.7 475.3,338.4 475.7,340.0 476.4,343.6 476.5,346.3 477.4,348.3 477.9,350.1 478.3,351.9 478.8,355.8 479.1,358.1 479.5,359.7 479.8,362.2 481.1,365.4 482.6,367.4 483.4,369.2 485.0,371.2 486.1,374.9 487.2,377.1 488.2,378.9 490.0,381.8 490.9,383.9 492.4,386.4 493.4,388.9 494.5,390.5 495.2,392.6 495.8,396.4 496.5,398.7 497.4,399.8 498.5,402.4 499.3,405.3 500.2,408.4 500.8,409.8 502.2,412.8 503.0,415.6 503.8,416.9 505.0,420.2 506.0,422.9 506.8,424.6 507.1,427.4 507.5,429.8 508.0,432.3 509.2,433.6 509.1,437.8 509.8,439.5 511.0,441.6 511.5,446.0 512.7,448.5 513.2,451.7 512.9,453.8 512.9,455.4 513.6,458.8 513.4,461.8 513.5,464.7 513.8,466.9 514.2,469.3 514.3,470.9 514.7,475.1 515.3,476.1 515.8,479.4 516.2,482.5 516.3,485.7 516.5,487.8 517.2,490.1 517.5,492.2 518.4,495.9 519.4,498.2 519.5,500.1 520.4,502.4 520.7,505.2 521.7,508.0 522.2,511.3 522.7,513.9 523.0,516.3 523.1,518.8 523.8,521.6 523.6,522.8 524.2,525.5 524.6,528.8 525.0,532.1 525.2,534.7 525.5,536.7 525.9,539.5 526.4,540.8 527.2,544.5 527.6,546.6 527.6,549.6 528.8,548.3 530.9,546.2 532.1,543.7 532.5,547.1 532.6,548.4 532.9,551.5 533.4,553.0 533.0,556.2 533.3,558.2 533.5,561.0 533.9,563.6 534.6,566.7 534.8,567.9 534.7,571.2 535.1,573.5 535.1,576.9 535.9,578.5 536.2,580.6 536.4,584.7 536.7,586.9 537.6,590.1 537.8,591.0 538.0,594.3 537.8,596.4 538.4,598.7 538.4,601.7 538.2,603.5 538.6,606.4 538.7,609.8 539.2,611.3 539.2,614.5 539.1,617.2 538.9,618.6 539.6,621.8 539.5,624.0 540.9,621.8 543.9,622.6 546.2,621.8 546.4,624.2 546.4,627.6 547.0,628.9 547.3,631.7 547.4,633.3 547.6,635.8 547.8,638.2 548.1,641.5 548.4,643.1 548.5,646.5 548.9,648.6 549.1,650.5 549.1,653.8 549.4,656.1 549.9,658.9 550.0,661.2 550.5,662.9 551.2,665.9 550.9,667.0 551.6,670.1 554.2,669.2 557.0,667.4 557.1,669.6 557.4,672.1 557.3,674.6 558.1,677.3 558.1,680.4 558.1,683.2 558.5,684.5 558.7,686.5 558.8,689.1 559.1,692.3 559.2,693.9 558.9,697.9 559.2,700.1 559.6,702.2 561.0,700.0 561.5,695.9 563.0,694.2 563.6,691.5 563.4,694.8 563.9,695.6 564.4,699.3 564.7,701.2 564.9,704.2 564.6,706.2 565.1,708.8 564.9,711.6 565.2,712.2 565.4,715.1 565.8,717.1 565.7,720.2 566.2,722.0 566.3,725.2 569.3,724.9 571.7,726.3 572.5,728.3 572.5,730.5 573.0,734.3 573.8,736.1 574.2,738.0 574.2,741.2 574.6,743.3 575.2,746.1 575.6,748.9 576.1,751.2 576.6,754.5 576.9,755.9 577.5,759.2 577.6,761.2 577.9,764.5 578.4,766.5 581.4,765.4 583.5,767.1 585.7,769.1 587.3,771.1 589.5,773.4 590.9,776.3 592.5,779.7 593.5,781.4 593.8,783.9 594.3,787.1 594.6,789.6 595.4,792.9 595.6,795.4 595.6,798.3 596.2,800.2 596.2,803.5 596.7,804.2 596.8,806.7 597.0,810.1 597.4,812.0 597.5,815.5 598.1,817.1 598.2,818.8 598.5,821.6 598.9,824.3 600.7,821.7 602.4,818.9 604.2,816.3 604.9,819.2 605.7,820.9 606.5,824.1 606.9,826.2 607.6,829.2 608.2,832.3 609.0,835.6 609.9,837.8 610.6,839.8 611.0,842.9 611.2,845.0 612.3,848.4 613.7,850.4 615.2,853.2 616.4,855.7 617.6,859.1 618.7,862.2 619.8,864.5 620.1,866.7 621.3,868.3 622.6,870.5 623.1,873.4 624.3,875.2 625.3,877.2 627.3,881.0 628.1,882.4 629.7,885.9 630.4,887.7 630.4,890.0 630.4,894.1 630.8,896.2 631.2,898.6 631.9,900.1 632.2,903.2 632.5,905.9 632.1,908.5 633.2,909.7 633.3,913.5 633.3,916.3 633.7,918.1 634.8,916.2 635.7,912.5 636.7,911.9 637.7,908.7 638.2,911.7 639.3,913.4 640.4,916.1 641.0,918.4 641.7,920.8 642.2,923.5 642.4,926.3 643.1,928.4 643.4,931.2 644.0,933.7 644.0,936.3 644.4,939.5 645.5,941.9 645.8,945.3 647.0,947.0 647.3,950.1 648.4,952.9 649.9,949.9 651.3,948.8 652.4,946.2 653.2,947.8 654.1,950.3 654.6,952.9 655.4,956.0 656.5,958.3 656.7,961.3 657.6,962.6 657.7,965.0 658.3,968.4 659.0,970.8 658.8,973.5 659.6,974.7 660.3,976.9 660.5,979.7 664.2,979.5 667.2,979.7 667.6,981.5 668.3,985.3 668.9,987.7 668.9,990.0 669.2,992.5 669.9,995.8 671.4,993.1 672.5,989.8 674.3,987.6 675.2,985.1 675.7,987.5 676.1,989.4 675.7,991.4 676.3,995.0 676.6,997.2 676.9,999.3 677.2,1001.8 677.2,1004.8 677.9,1007.3 677.9,1009.2 678.6,1012.9 679.6,1014.4 680.9,1016.6 681.9,1019.9 682.5,1018.2 684.0,1016.0 684.8,1014.1 685.7,1010.4 686.2,1008.9 687.3,1006.5 687.5,1009.6 688.2,1012.1 687.9,1013.7 688.3,1017.0 689.1,1018.1 689.0,1020.8 689.6,1023.6 689.6,1025.7 689.9,1027.9 690.5,1031.8 691.0,1033.9 690.8,1035.3 691.3,1038.7 693.9,1040.7 696.4,1043.2 699.3,1044.0 700.3,1042.6 701.2,1039.8 701.5,1037.0 702.6,1034.7 703.3,1033.2 704.1,1030.9 704.7,1028.0 705.1,1031.2 706.1,1034.0 706.4,1035.7 707.1,1038.9 708.1,1041.1 708.7,1044.0 709.1,1045.8 709.8,1047.9 710.3,1052.6 710.8,1052.5 711.9,1056.4 712.6,1057.0 712.6,1058.6 713.7,1061.3 714.1,1065.5 715.1,1061.3 715.6,1059.5 716.9,1056.7 717.8,1055.5 718.3,1054.6 719.2,1051.2 720.3,1049.2 720.8,1046.7 722.8,1047.9 725.4,1052.5 727.5,1052.1 728.2,1055.1 728.8,1054.7 729.6,1060.6 730.5,1062.1 730.9,1062.5 732.1,1064.5 732.7,1067.6 733.7,1071.5 734.2,1073.5 734.5,1074.7 735.1,1080.7 735.4,1081.4 736.0,1086.3 735.7,1087.1 736.6,1086.9 736.8,1092.3 737.4,1091.2 737.9,1089.0 738.7,1084.5 739.9,1084.7 739.9,1078.9 741.1,1077.3 741.2,1078.0 742.2,1073.5 742.8,1075.2 743.5,1081.1 744.4,1080.1 744.9,1084.7 745.6,1087.7 746.0,1089.2 746.5,1090.3 747.4,1095.8 747.6,1095.0 749.1,1095.6 750.2,1090.4 752.0,1087.5 753.2,1087.2 753.9,1085.0 755.6,1081.5 760.0,1081.7 760.3,1083.9 761.0,1090.3 761.2,1088.5 761.7,1094.9 761.9,1096.1 762.7,1096.7 763.0,1097.7 763.7,1104.9 763.7,1105.0 764.5,1102.9 765.3,1103.9 765.8,1100.7 766.7,1093.1 767.3,1090.5 768.0,1089.6 768.5,1089.8 769.0,1086.4 769.8,1084.2 770.8,1090.2 771.3,1092.4 772.3,1088.1 773.9,1092.7 774.4,1093.8 775.2,1101.5 776.0,1099.8 777.2,1103.8 777.6,1098.1 777.7,1099.3 778.3,1096.9 778.4,1095.4 779.3,1089.6 779.6,1090.4 779.8,1085.5 780.2,1083.3 780.4,1085.0 780.8,1079.3 781.6,1081.4 781.9,1084.2 782.9,1083.2 783.5,1089.1 784.2,1090.4 784.3,1096.2 784.7,1098.4 785.9,1099.9 786.3,1101.3 786.6,1100.3 786.9,1095.1 787.7,1096.4 788.0,1093.0 788.8,1088.0 789.1,1089.0 789.6,1084.4 789.6,1079.5 790.3,1080.2 790.6,1075.6 791.5,1080.0 791.8,1079.8 793.2,1084.9 793.5,1085.6 794.1,1090.3 795.2,1088.1 796.1,1092.6 797.0,1091.7 797.4,1097.6 800.7,1094.8 804.1,1095.2 804.7,1089.3 805.8,1090.3 805.8,1085.6 807.1,1088.0 807.5,1082.9 808.1,1083.2 808.8,1077.7 809.3,1074.4 809.8,1072.5 811.1,1070.5 811.5,1068.2 813.7,1067.4 816.4,1063.3 817.8,1065.0 818.4,1069.9 819.9,1068.8 820.8,1071.6 821.6,1076.7 822.9,1076.2 823.9,1076.4 825.0,1081.7 825.5,1079.9 826.2,1078.1 826.8,1075.0 826.8,1070.7 827.3,1069.0 828.3,1069.3 828.5,1067.0 829.4,1064.4 829.9,1061.7 829.7,1059.0 830.4,1055.1 831.1,1053.5 831.8,1056.1 832.3,1060.2 832.9,1063.0 833.7,1064.6 834.6,1066.1 835.2,1066.2 835.7,1071.4 836.6,1071.4 837.2,1075.6 837.4,1072.2 838.2,1069.7 838.5,1068.4 838.9,1064.5 839.5,1064.3 840.3,1060.0 840.4,1059.3 841.1,1058.8 841.5,1052.8 842.3,1050.9 842.1,1050.2 843.1,1046.5 843.3,1044.9 843.9,1042.5 844.3,1044.9 845.3,1047.3 846.1,1050.7 846.3,1052.7 847.4,1054.8 847.9,1058.0 848.9,1061.6 849.8,1063.1 850.1,1064.6 850.4,1064.3 851.3,1061.7 851.5,1058.0 852.8,1053.3 853.5,1052.3 853.8,1052.5 854.4,1048.3 855.2,1045.9 855.4,1044.4 856.1,1040.9 856.5,1037.9 857.4,1036.4 858.0,1038.4 858.3,1040.9 858.6,1045.1 858.8,1047.8 859.2,1049.1 859.8,1050.4 860.4,1055.7 860.3,1055.9 861.1,1059.7 862.3,1055.6 863.4,1055.4 865.2,1051.2 866.1,1049.5 867.4,1049.1 869.1,1046.2 869.3,1044.3 870.2,1042.2 870.5,1038.8 871.3,1037.5 871.7,1034.6 872.3,1031.5 873.2,1029.3 873.8,1028.1 874.0,1024.7 874.6,1023.6 875.2,1020.4 875.7,1023.0 876.9,1025.9 877.8,1027.2 878.6,1029.6 879.5,1032.4 880.2,1034.8 881.3,1037.6 883.7,1036.4 886.0,1033.8 886.5,1031.2 886.6,1028.2 887.2,1026.4 887.5,1025.0 888.0,1021.7 888.2,1020.1 888.6,1017.5 888.8,1013.8 889.5,1011.5 890.0,1009.4 890.3,1008.1 890.6,1005.7 891.4,1002.2 891.3,1000.6 891.9,998.1 893.1,1000.2 894.0,1002.0 894.9,1004.5 895.1,1007.7 896.3,1009.5 897.5,1012.6 897.9,1015.4 899.0,1017.1 899.5,1014.8 899.9,1011.5 900.1,1009.1 900.3,1007.2 900.3,1005.4 901.3,1001.7 901.6,1000.0 901.5,996.7 902.2,994.9 901.9,992.3 902.6,989.8 903.4,992.2 903.5,995.6 904.7,997.2 905.1,1000.4 905.6,1001.8 906.2,1004.8 906.5,1007.5 907.4,1010.0 907.8,1008.2 908.4,1004.6 908.5,1002.5 908.8,1000.6 909.7,998.9 910.5,995.2 910.2,993.5 910.7,991.4 911.5,988.1 912.3,986.5 912.1,984.4 912.5,981.5 913.3,979.0 913.9,981.8 914.3,984.1 915.3,986.1 916.2,987.6 916.9,991.9 917.1,994.2 918.1,995.7 918.5,993.6 919.0,990.8 918.8,988.4 919.7,986.4 919.8,983.5 920.4,980.7 920.0,980.0 921.1,976.9 920.7,974.3 921.4,972.3 921.7,969.5 921.7,971.6 922.7,973.7 922.9,976.6 923.2,979.3 923.8,982.0 924.1,982.9 924.4,985.3 925.1,989.5 925.2,991.0 925.9,988.2 926.2,985.6 926.0,984.4 926.8,981.0 926.9,980.1 927.9,976.6 928.3,973.7 928.6,972.4 928.9,969.2 929.0,966.5 929.3,965.4 930.0,962.4 930.6,964.9 932.0,967.9 933.2,968.9 934.0,972.4 935.1,973.7 935.7,977.3 937.0,978.5 937.7,981.8 938.7,978.8 939.0,977.1 939.7,974.4 940.9,972.1 941.2,969.8 942.4,967.6 942.8,964.2 943.5,962.4 945.0,965.6 946.1,966.7 947.9,970.1 949.3,972.1 949.5,968.9 950.4,967.0 950.8,964.9 951.6,962.1 951.9,960.8 952.7,957.8 953.3,955.3 953.5,952.2 954.2,950.8 955.1,953.5 956.6,954.9 957.8,958.5 958.7,961.6 960.0,963.4 960.9,961.8 961.1,959.5 962.1,955.3 962.2,953.1 963.3,951.8 963.8,948.9 964.5,951.7 965.5,954.2 966.9,956.2 967.7,958.6 968.4,955.7 969.5,954.1 969.8,951.5 970.7,948.8 971.9,945.3 972.6,943.1 973.4,941.2 974.0,938.1 974.4,935.9 975.3,932.9 976.0,929.9 976.3,928.6 977.4,925.7 978.5,923.1 978.7,921.9 980.1,919.6 980.3,916.7 981.3,914.1 981.9,916.4 982.7,919.0 983.5,921.1 984.5,924.1 985.7,926.9 986.5,927.9 987.0,931.5 988.0,933.4 988.6,931.7 990.1,928.4 991.3,927.1 992.1,924.2 992.9,921.8 996.6,921.7 999.6,919.9 999.9,917.2 1000.4,915.7 1001.1,911.9 1000.8,910.1 1001.1,907.6 1001.6,906.4 1002.6,902.2 1002.7,900.4 1002.9,898.2 1003.6,896.9 1004.0,893.3 1004.4,891.8 1004.5,888.9 1005.0,891.2 1005.7,894.6 1006.4,895.9 1006.9,899.0 1007.9,900.2 1008.2,902.8 1008.3,905.5 1009.3,908.3 1010.1,905.3 1010.6,902.4 1011.7,900.9 1012.5,897.5 1013.7,895.3 1014.6,894.2 1015.1,890.9 1015.5,889.1 1016.1,885.2 1016.7,882.6 1016.9,880.0 1016.9,878.2 1017.7,875.9 1018.2,873.2 1018.3,870.8 1019.0,867.7 1019.9,864.7 1020.4,862.0 1020.9,860.8 1022.1,857.8 1022.5,855.0 1023.6,853.2 1024.4,850.8 1024.8,848.3 1025.5,850.8 1026.7,854.3 1027.8,855.3 1028.3,858.5 1029.3,860.8 1030.6,863.8 1032.1,861.0 1033.4,859.6 1035.4,856.1 1035.8,853.1 1036.9,850.7 1037.6,848.0 1038.9,845.4 1039.5,844.0 1040.3,840.6 1040.9,838.0 1041.4,836.1 1042.6,832.5 1043.7,829.7 1044.1,827.0 1044.2,824.7 1045.0,821.2 1045.2,818.5 1045.6,817.5 1046.0,815.4 1046.1,811.6 1046.8,809.3 1047.3,807.4 1047.6,805.2 1048.0,801.9 1049.1,804.2 1050.8,807.2 1052.5,809.1 1053.8,811.6 1054.1,809.2 1054.6,807.0 1055.9,805.0 1056.0,802.6 1056.6,798.9 1056.9,797.2 1057.7,794.2 1060.0,790.4 1060.1,788.2 1060.1,785.2 1060.5,783.5 1060.9,780.7 1061.3,778.9 1061.7,776.1 1061.3,773.9 1062.1,771.5 1062.0,768.3 1063.2,765.0 1065.0,763.5 1066.0,760.3 1068.2,757.4 1070.0,756.3 1071.0,759.4 1071.8,760.6 1073.3,763.0 1073.9,766.4 1075.1,768.3 1076.2,766.4 1077.0,763.0 1077.2,761.3 1078.2,758.5 1079.1,756.3 1079.3,753.3 1079.7,751.3 1079.5,749.0 1079.1,747.5 1079.9,743.9 1080.0,742.1 1080.0,738.6 1079.8,736.5 1080.0,734.3 1080.1,732.2 1082.1,730.2 1082.7,733.4 1082.9,735.6 1083.5,738.1 1084.2,740.9 1084.5,742.1 1085.2,745.6 1085.4,747.2 1086.1,750.3 1086.8,748.3 1088.3,745.3 1088.7,742.1 1090.1,740.2 1090.7,738.7 1090.9,735.8 1091.0,733.6 1091.7,731.4 1091.8,728.6 1091.6,724.8 1092.4,723.4 1092.8,720.0 1092.4,719.3 1093.1,716.1 1094.0,719.2 1094.5,721.1 1095.1,723.5 1095.8,727.6 1096.4,729.5 1097.2,732.2 1098.2,730.0 1099.2,726.9 1100.5,724.9 1101.2,722.1 1101.4,724.3 1101.9,726.8 1102.2,729.9 1102.9,731.8 1103.3,734.0 1103.6,738.4 1104.2,740.2 1105.0,737.7 1105.9,735.3 1106.0,732.2 1106.6,730.0 1107.2,726.7 1108.2,724.2 1109.4,720.9 1111.2,719.0 1112.2,716.1 1114.3,717.2 1115.4,719.7 1117.3,722.1 1117.4,723.8 1117.8,726.3 1118.2,730.4 1118.9,732.1 1118.9,736.0 1119.0,737.4 1119.6,739.6 1119.9,743.3 1120.0,746.0 1120.3,748.3 1120.8,745.7 1121.1,742.7 1122.1,740.7 1122.5,738.8 1122.8,736.3 1123.7,732.8 1124.3,730.2 1125.1,732.9 1125.4,735.3 1126.2,738.4 1126.3,740.2 1127.0,741.9 1127.4,744.9 1127.3,748.2 1128.4,749.1 1128.8,752.5 1129.0,754.2 1129.1,757.5 1129.7,760.1 1130.3,762.3 1131.7,760.5 1133.7,758.7 1135.3,756.3 1135.9,754.3 1135.9,751.8 1136.7,747.9 1137.3,746.2 1137.4,748.5 1137.3,751.4 1137.4,753.3 1137.6,755.9 1137.5,759.6 1138.0,761.9 1138.0,763.7 1138.2,766.7 1138.1,768.0 1138.0,771.3 1138.0,774.6 1138.3,776.4 1142.4,778.4 1143.3,781.4 1143.4,784.4 1144.4,786.4 1145.0,789.0 1145.6,791.8 1147.1,793.5 1147.4,795.2 1148.4,798.5 1152.4,796.5 1152.9,794.3 1153.7,792.4 1154.6,788.9 1155.4,786.4 1155.4,789.3 1156.1,791.9 1156.2,793.7 1156.7,796.2 1157.1,799.3 1157.4,802.5 1157.8,805.4 1158.1,807.3 1158.4,810.9 1158.3,812.3 1159.1,815.5 1159.4,818.6 1163.5,820.6 1165.0,817.4 1166.3,816.0 1167.5,812.5 1168.1,814.0 1168.8,817.9 1169.1,818.7 1169.5,821.4 1170.3,824.1 1170.5,826.6 1170.4,828.2 1171.1,831.9 1171.5,833.4 1171.5,836.5 1171.7,837.7 1171.4,841.2 1171.7,842.8 1171.9,846.9 1172.1,848.4 1172.5,850.7 1174.5,852.5 1176.5,854.7 1176.6,851.1 1177.1,849.6 1177.4,846.8 1178.0,844.4 1178.8,842.1 1179.4,840.1 1179.5,836.6 1179.9,839.3 1180.0,842.6 1180.1,844.1 1180.2,846.3 1180.8,849.7 1180.8,852.6 1181.1,853.7 1181.5,856.7 1185.6,856.7 1185.5,858.8 1185.8,862.0 1185.8,863.4 1185.7,866.9 1186.5,869.5 1186.5,871.9 1186.1,873.4 1186.6,876.8 1188.2,880.0 1189.1,881.5 1190.6,884.9 1191.2,881.8 1191.8,879.2 1191.7,877.7 1192.6,874.7 1192.5,871.5 1193.6,869.6 1193.6,866.8 1194.2,868.9 1194.5,871.4 1195.8,875.8 1195.8,877.5 1196.6,880.8 1196.9,882.5 1197.3,885.5 1197.3,887.8 1197.2,891.2 1198.0,892.6 1198.3,896.4 1197.9,898.8 1198.2,900.0 1198.6,902.9 1201.6,902.9 1202.4,899.6 1202.8,897.6 1203.7,895.9 1204.6,892.9 1205.6,895.1 1206.9,898.2 1207.6,901.3 1208.7,902.9 1209.1,906.4 1209.0,908.7 1209.2,910.4 1209.3,915.1 1209.7,917.0 1211.0,920.5 1212.0,922.6 1213.0,924.5 1213.7,927.0 1214.7,924.7 1214.9,921.1 1215.6,920.0 1216.7,917.0 1216.7,919.3 1217.8,923.0 1218.3,925.6 1218.2,927.2 1218.7,929.3 1219.3,932.0 1219.9,934.4 1219.7,937.5 1220.4,940.0 1220.7,942.3 1221.7,945.6 1222.3,947.7 1222.6,950.0 1223.1,953.4 1223.9,949.8 1225.2,948.3 1226.3,945.3 1227.1,942.7 1228.8,944.5 1230.6,945.9 1232.2,948.5 1233.8,950.7 1234.5,953.4 1235.7,956.7 1236.5,958.8 1240.5,960.1 1240.6,962.7 1241.8,964.6 1241.9,968.0 1242.2,971.5 1243.1,973.5 1243.4,975.9 1244.1,979.8 1244.4,981.9 1244.9,984.1 1245.8,986.9 1246.6,989.7 1246.9,992.5 1247.5,995.5 1248.1,996.7 1248.5,1000.3 1249.5,998.3 1250.7,995.5 1251.4,992.6 1252.1,990.5 1252.7,987.8 1253.9,985.5 1254.3,988.6 1255.0,991.4 1255.0,994.5 1255.1,995.8 1255.8,999.4 1256.5,1002.1 1256.5,1004.3 1257.6,1006.0 1259.0,1008.0 1260.6,1011.0 1261.0,1014.2 1262.0,1015.5 1262.7,1017.3 1262.8,1020.9 1263.9,1023.1 1265.1,1020.2 1266.3,1019.6 1267.2,1015.9 1268.5,1013.8 1269.9,1012.3 1270.8,1013.9 1271.3,1017.7 1272.1,1018.9 1272.5,1021.9 1273.2,1025.0 1274.0,1027.1 1274.3,1028.6 1275.7,1032.9 1276.3,1034.9 1276.5,1037.2 1277.3,1039.5 1278.0,1041.8 1279.0,1043.8 1280.7,1047.9 1282.0,1049.8 1284.5,1048.8 1287.4,1047.2 1288.1,1049.4 1289.7,1052.4 1290.5,1057.0 1291.4,1057.9 1293.2,1061.6 1295.0,1063.3 1296.7,1064.6 1298.7,1065.9 1301.0,1067.4 1303.4,1068.6 1306.3,1071.3 1308.8,1071.3 1310.1,1074.3 1311.1,1073.9 1312.6,1075.8 1314.2,1079.3 1314.5,1081.4 1315.1,1081.5 1316.3,1087.2 1316.8,1090.0 1317.6,1089.4 1317.8,1081.5 1318.3,1082.4 1318.5,1076.9 1319.3,1078.5 1319.7,1073.6 1320.3,1073.5 1320.6,1068.2 1321.5,1068.8 1321.7,1064.9 1322.2,1061.9 1322.9,1062.8 1323.3,1065.8 1323.8,1069.6 1323.9,1071.5 1324.5,1073.4 1324.9,1077.4 1325.7,1077.5 1325.6,1080.2 1326.2,1084.7 1326.8,1084.1 1327.5,1086.4 1328.1,1089.2 1328.3,1095.0 1328.9,1096.7 1329.6,1096.7 1329.6,1089.5 1329.7,1086.5 1330.6,1089.5 1331.1,1082.8 1331.2,1082.1 1331.8,1082.0 1332.1,1074.5 1332.1,1072.0 1332.9,1070.1 1333.4,1067.4 1333.4,1066.6 1336.5,1065.1 1340.3,1067.5 1340.9,1071.2 1341.8,1071.9 1342.4,1076.6 1343.4,1078.7 1344.3,1079.6 1344.9,1084.9 1345.9,1082.2 1346.3,1087.2 1347.4,1082.9 1348.1,1083.0 1348.6,1081.3 1349.2,1079.3 1350.2,1075.2 1351.1,1071.2 1351.4,1070.9 1353.0,1072.0 1354.1,1072.6 1355.6,1075.3 1357.5,1078.6 1358.0,1082.1 1359.2,1084.7 1359.8,1085.9 1360.9,1084.9 1361.8,1087.3 1362.7,1095.0 1363.8,1092.2 1364.3,1097.5 1365.7,1099.3 1368.0,1104.9 1369.4,1105.7 1371.2,1105.2 1372.8,1105.9 1375.2,1102.5 1377.2,1098.4 1378.7,1103.3 1380.0,1105.8 1381.7,1103.7 1382.9,1106.2 1384.0,1111.0 1387.3,1109.5 1390.0,1108.7 1390.6,1106.1 1391.3,1106.4 1391.6,1103.5 1392.0,1100.5 1392.4,1099.8 1392.8,1093.8 1393.3,1089.5 1393.8,1088.7 1394.3,1086.8 1395.2,1084.6 1397.4,1086.6 1400.3,1082.9 1401.7,1083.4 1403.7,1088.5 1405.1,1092.4 1407.2,1092.4 1408.6,1089.5 1410.0,1088.5 1411.7,1089.5 1412.6,1086.8 1414.5,1080.1 1415.8,1080.3 1418.0,1075.8 1420.1,1076.0 1422.0,1074.4 1423.7,1073.4 1426.1,1071.8 1428.8,1071.9 1431.6,1071.0 1434.0,1071.5 1436.4,1073.5 1436.9,1076.7 1437.2,1077.1 1438.2,1078.3 1438.5,1082.4 1438.9,1087.1 1439.4,1086.9 1440.0,1087.6 1441.0,1092.7 1441.5,1094.9 1443.4,1091.6 1445.0,1092.7 1446.9,1086.5 1448.4,1085.5 1449.1,1080.2 1449.1,1082.7 1449.1,1076.7 1449.9,1077.4 1450.0,1074.1 1450.5,1072.2 1450.8,1069.1 1451.0,1067.3 1451.7,1061.8 1451.8,1061.5 1453.0,1057.3 1454.9,1058.9 1455.9,1054.3 1457.0,1051.1 1458.7,1050.3 1460.8,1048.9 1462.6,1047.0 1464.3,1044.3 1464.6,1046.4 1465.7,1049.4 1465.8,1051.8 1467.0,1056.5 1467.6,1057.7 1467.7,1058.3 1468.7,1062.1 1469.1,1063.6 1470.0,1067.7 1470.3,1070.0 1470.8,1066.1 1471.4,1064.8 1472.1,1064.0 1473.0,1060.9 1473.5,1056.9 1474.8,1053.8 1474.9,1054.3 1475.7,1052.6 1476.6,1048.0 1477.2,1046.0 1478.3,1047.4 1479.5,1050.1 1480.5,1050.8 1481.2,1054.4 1481.8,1055.7 1483.2,1059.8 1484.2,1059.5 1484.3,1055.3 1485.1,1052.3 1486.4,1052.5 1487.2,1047.7 1487.3,1046.2 1488.3,1043.5 1489.7,1046.2 1490.4,1048.2 1491.5,1053.1 1492.6,1054.6 1493.7,1051.3 1494.9,1050.4 1496.6,1047.2 1497.7,1044.3 1500.5,1042.6 1503.8,1040.9 1504.0,1043.0 1504.9,1044.7 1505.2,1048.8 1506.4,1051.6 1506.9,1052.7 1506.9,1055.5 1508.1,1057.3 1508.2,1059.7 1509.0,1060.7 1509.8,1066.3 1509.7,1066.8 1510.6,1069.2 1511.6,1066.4 1512.0,1065.3 1513.5,1062.3 1514.4,1058.9 1515.1,1059.3 1515.7,1057.5 1516.9,1052.0 1517.5,1051.2 1517.5,1053.1 1517.9,1057.3 1519.0,1060.3 1518.8,1059.7 1519.3,1065.1 1519.4,1066.6 1519.9,1068.4 1520.3,1070.9 1520.7,1071.7 1521.1,1074.8 1521.8,1077.3 1522.0,1076.5 1522.0,1081.0 1522.6,1084.6 1523.0,1079.2 1524.2,1081.7 1524.9,1077.7 1525.3,1075.2 1526.2,1073.3 1526.9,1067.1 1527.3,1066.2 1528.1,1064.8 1528.6,1061.5 1528.9,1064.0 1529.6,1064.5 1530.2,1068.7 1530.7,1071.1 1530.9,1075.3 1531.5,1075.3 1532.2,1078.7 1532.2,1084.2 1533.2,1085.7 1534.0,1089.3 1534.5,1086.4 1534.6,1091.5 1535.0,1088.8 1535.6,1085.9 1536.1,1086.1 1536.5,1079.1 1537.8,1082.2 1537.7,1077.4 1538.3,1074.1 1538.9,1073.6 1539.8,1070.0 1540.5,1071.5 1540.6,1074.5 1541.7,1078.8 1541.9,1079.1 1542.2,1079.2 1542.9,1081.5 1543.4,1090.0 1543.4,1090.7 1544.2,1093.2 1545.0,1093.5 1545.6,1094.7 1545.8,1099.2 1546.5,1094.3 1546.9,1094.9 1547.1,1090.8 1547.9,1088.8 1548.1,1084.0 1549.1,1083.0 1549.9,1080.0 1550.1,1078.6 1550.8,1081.5 1551.1,1084.6 1551.6,1087.8 1552.1,1086.6 1552.5,1092.3 1553.6,1090.9 1553.7,1095.9 1554.8,1101.3 1555.0,1098.4 1555.8,1105.6 1556.1,1106.1 1556.5,1100.7 1556.8,1100.9 1557.5,1101.2 1558.1,1094.7 1558.9,1092.0 1559.3,1092.8 1560.2,1086.2 1560.4,1085.5 1561.1,1086.2 1561.8,1093.3 1562.6,1092.7 1562.7,1098.1 1563.6,1096.3 1564.2,1104.3 1565.3,1102.6 1565.4,1107.2 1566.4,1108.7 1567.4,1103.1 1567.6,1101.1 1568.3,1098.7 1569.1,1100.2 1570.3,1098.8 1570.7,1095.6 1571.3,1093.5 1572.4,1088.1 1572.8,1090.9 1574.1,1096.5 1574.9,1096.1 1575.5,1098.9 1575.9,1099.2 1576.8,1103.6 1577.5,1102.8 1578.6,1105.7 1579.2,1110.4 1579.6,1110.6 1580.2,1102.7 1580.9,1099.7 1581.6,1099.2 1582.2,1097.0 1582.1,1094.9 1582.9,1092.6 1583.0,1090.2 1583.7,1086.1 1584.4,1086.3 1585.4,1087.4 1585.8,1092.4 1586.0,1093.4 1587.0,1096.4 1587.3,1101.2 1588.3,1103.1 1588.9,1102.5 1589.5,1106.1 1590.0,1105.1 1590.3,1103.8 1590.1,1098.3 1590.5,1093.6 1590.6,1094.3 1591.1,1086.7 1591.3,1087.2" fill="none" stroke="#00FF00" stroke-width="6" stroke-linejoin="round" stroke-linecap="round"/>
</g>
<g font-family='"Liberation Sans", Arial, Helvetica, sans-serif' font-weight="bold" fill="#000" style="font-kerning:none">
<text transform="translate(243.50,1131.90) scale(1,1.04)" font-size="59.3" text-anchor="end">0</text>
<text transform="translate(243.50,980.69) scale(1,1.04)" font-size="59.3" text-anchor="end">100</text>
<text transform="translate(243.50,829.48) scale(1,1.04)" font-size="59.3" text-anchor="end">200</text>
<text transform="translate(243.50,678.27) scale(1,1.04)" font-size="59.3" text-anchor="end">300</text>
<text transform="translate(243.50,527.06) scale(1,1.04)" font-size="59.3" text-anchor="end">400</text>
<text transform="translate(243.50,375.85) scale(1,1.04)" font-size="59.3" text-anchor="end">500</text>
<text transform="translate(243.50,224.64) scale(1,1.04)" font-size="59.3" text-anchor="end">600</text>
<text transform="translate(243.50,73.43) scale(1,1.04)" font-size="59.3" text-anchor="end">700</text>
<text transform="translate(278.40,1195.40) scale(1,1.04)" font-size="59.3" text-anchor="middle">0</text>
<text transform="translate(517.05,1195.40) scale(1,1.04)" font-size="59.3" text-anchor="middle">200</text>
<text transform="translate(755.71,1195.40) scale(1,1.04)" font-size="59.3" text-anchor="middle">400</text>
<text transform="translate(994.36,1195.40) scale(1,1.04)" font-size="59.3" text-anchor="middle">600</text>
<text transform="translate(1233.02,1195.40) scale(1,1.04)" font-size="59.3" text-anchor="middle">800</text>
<text transform="translate(1471.67,1195.40) scale(1,1.04)" font-size="59.3" text-anchor="middle">1000</text>
<text transform="translate(669.10,1310.20) scale(1,1.03)" font-size="65.5" text-anchor="start">Temperature (°C)</text>
<text transform="translate(77.00,845.80) rotate(-90) scale(1,1.04)" font-size="64.9" text-anchor="start">Intensity (mV/gcat)</text>
<line x1="1097" y1="142.6" x2="1219.5" y2="142.6" stroke="#000000" stroke-width="5.2" stroke-linecap="round"/>
<text transform="translate(1235.30,162.20) scale(1,1.04)" font-size="55.3" text-anchor="start">Ni/Si</text>
<line x1="1097" y1="212.1" x2="1219.5" y2="212.1" stroke="#00BFFF" stroke-width="5.2" stroke-linecap="round"/>
<text transform="translate(1235.30,231.65) scale(1,1.04)" font-size="55.3" text-anchor="start">Ni/MgSi</text>
<line x1="1097" y1="281.5" x2="1219.5" y2="281.5" stroke="#FF7171" stroke-width="5.2" stroke-linecap="round"/>
<text transform="translate(1235.30,301.10) scale(1,1.04)" font-size="55.3" text-anchor="start">Ni/CeSi</text>
<line x1="1097" y1="351.0" x2="1219.5" y2="351.0" stroke="#00FF00" stroke-width="5.2" stroke-linecap="round"/>
<text transform="translate(1235.30,370.55) scale(1,1.04)" font-size="55.3" text-anchor="start">Ni/LaSi</text>
<text transform="translate(378.20,150.70) scale(1,1.04)" font-size="54.7" text-anchor="start" xml:space="preserve">130 <tspan font-weight="normal" font-size="57.3" dy="4.0">°</tspan><tspan dx="-1.04" dy="-4.0">C</tspan></text>
<text transform="translate(491.40,347.20) scale(1,1.04)" font-size="54.7" text-anchor="start" xml:space="preserve">190 <tspan font-weight="normal" font-size="57.3" dy="4.0">°</tspan><tspan dx="-1.04" dy="-4.0">C</tspan></text>
<text transform="translate(341.30,519.50) scale(1,1.04)" font-size="54.7" text-anchor="start" xml:space="preserve">110 <tspan font-weight="normal" font-size="57.3" dy="4.0">°</tspan><tspan dx="-1.04" dy="-4.0">C</tspan></text>
<text transform="translate(467.40,791.50) scale(1,1.04)" font-size="54.7" text-anchor="start" xml:space="preserve">210 <tspan font-weight="normal" font-size="57.3" dy="4.0">°</tspan><tspan dx="-1.04" dy="-4.0">C</tspan></text>
<text transform="translate(344.00,903.10) scale(1,1.04)" font-size="54.7" text-anchor="start" xml:space="preserve">90 <tspan font-weight="normal" font-size="57.3" dy="4.0">°</tspan><tspan dx="-1.04" dy="-4.0">C</tspan></text>
<text transform="translate(1048.70,681.50) scale(1,1.04)" font-size="54.7" text-anchor="start" xml:space="preserve">700 <tspan font-weight="normal" font-size="57.3" dy="4.0">°</tspan><tspan dx="-1.04" dy="-4.0">C</tspan></text>
</g>
</svg>
</body></html>
